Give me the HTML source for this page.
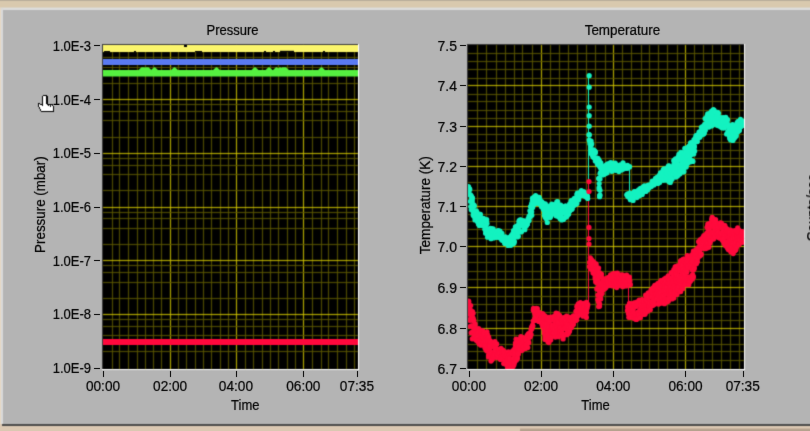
<!DOCTYPE html>
<html><head><meta charset="utf-8"><style>
html,body{margin:0;padding:0;background:#b4b4b4;width:810px;height:431px;overflow:hidden}
text{font-family:"Liberation Sans",sans-serif}
</style></head><body>
<svg width="810" height="431" viewBox="0 0 810 431" style="display:block">
<defs><filter id="blur" x="0" y="0" width="810" height="431" filterUnits="userSpaceOnUse" color-interpolation-filters="sRGB"><feConvolveMatrix order="3" kernelMatrix="0.0225 0.105 0.0225 0.105 0.49 0.105 0.0225 0.105 0.0225" edgeMode="duplicate"/></filter></defs><g filter="url(#blur)">
<rect x="0" y="0" width="810" height="431" fill="#b4b4b4"/>
<rect x="0" y="0" width="810" height="1" fill="#b8ad9a"/>
<rect x="0" y="1" width="810" height="7" fill="#d9c9ae"/>
<rect x="0" y="7" width="810" height="1" fill="#dad2c2"/>
<rect x="0" y="8" width="810" height="2" fill="#dcdcdc"/>
<rect x="0" y="8" width="1" height="418" fill="#e6d8c4"/>
<rect x="1" y="8" width="2" height="416" fill="#d9d9d9"/>
<rect x="0" y="424" width="810" height="7" fill="#dbc8b2"/>
<rect x="2" y="424" width="808" height="2" fill="#4b4b4b"/>
<rect x="520" y="428" width="290" height="1" fill="#cbb7a2"/>
<rect x="520" y="429" width="290" height="2" fill="#b6a28e"/>
<rect x="103" y="45" width="255" height="324" fill="#000"/>
<rect x="102" y="44" width="256" height="1" fill="#3c3c3c"/>
<rect x="102" y="44" width="1" height="325" fill="#3c3c3c"/>
<rect x="102" y="369" width="257" height="1" fill="#ffffff"/>
<rect x="358" y="44" width="1" height="326" fill="#ffffff"/>
<rect x="468" y="45" width="276" height="324" fill="#000"/>
<rect x="467" y="44" width="277" height="1" fill="#3c3c3c"/>
<rect x="467" y="44" width="1" height="325" fill="#3c3c3c"/>
<rect x="467" y="369" width="278" height="1" fill="#ffffff"/>
<rect x="744" y="44" width="1" height="326" fill="#ffffff"/>
<defs><filter id="blur2" x="0" y="0" width="810" height="431" filterUnits="userSpaceOnUse" color-interpolation-filters="sRGB"><feConvolveMatrix order="3" kernelMatrix="0.01 0.08 0.01 0.08 0.64 0.08 0.01 0.08 0.01" edgeMode="none" preserveAlpha="false"/></filter></defs>
<g shape-rendering="crispEdges" filter="url(#blur2)">
<rect x="112" y="45" width="1" height="324" fill="#5c5700"/>
<rect x="119" y="45" width="1" height="324" fill="#5c5700"/>
<rect x="128" y="45" width="1" height="324" fill="#5c5700"/>
<rect x="137" y="45" width="1" height="324" fill="#5c5700"/>
<rect x="145" y="45" width="1" height="324" fill="#5c5700"/>
<rect x="153" y="45" width="1" height="324" fill="#5c5700"/>
<rect x="161" y="45" width="1" height="324" fill="#5c5700"/>
<rect x="170" y="45" width="1" height="324" fill="#d0c400"/>
<rect x="178" y="45" width="1" height="324" fill="#5c5700"/>
<rect x="186" y="45" width="1" height="324" fill="#5c5700"/>
<rect x="195" y="45" width="1" height="324" fill="#5c5700"/>
<rect x="203" y="45" width="1" height="324" fill="#5c5700"/>
<rect x="211" y="45" width="1" height="324" fill="#5c5700"/>
<rect x="220" y="45" width="1" height="324" fill="#5c5700"/>
<rect x="228" y="45" width="1" height="324" fill="#5c5700"/>
<rect x="236" y="45" width="1" height="324" fill="#d0c400"/>
<rect x="245" y="45" width="1" height="324" fill="#5c5700"/>
<rect x="253" y="45" width="1" height="324" fill="#5c5700"/>
<rect x="262" y="45" width="1" height="324" fill="#5c5700"/>
<rect x="270" y="45" width="1" height="324" fill="#5c5700"/>
<rect x="278" y="45" width="1" height="324" fill="#5c5700"/>
<rect x="287" y="45" width="1" height="324" fill="#5c5700"/>
<rect x="295" y="45" width="1" height="324" fill="#5c5700"/>
<rect x="303" y="45" width="1" height="324" fill="#d0c400"/>
<rect x="312" y="45" width="1" height="324" fill="#5c5700"/>
<rect x="321" y="45" width="1" height="324" fill="#5c5700"/>
<rect x="328" y="45" width="1" height="324" fill="#5c5700"/>
<rect x="337" y="45" width="1" height="324" fill="#5c5700"/>
<rect x="346" y="45" width="1" height="324" fill="#5c5700"/>
<rect x="354" y="45" width="1" height="324" fill="#5c5700"/>
<rect x="103" y="351" width="255" height="1" fill="#5c5700"/>
<rect x="103" y="335" width="255" height="1" fill="#5c5700"/>
<rect x="103" y="326" width="255" height="1" fill="#5c5700"/>
<rect x="103" y="319" width="255" height="1" fill="#5c5700"/>
<rect x="103" y="314" width="255" height="1" fill="#d0c400"/>
<rect x="103" y="298" width="255" height="1" fill="#5c5700"/>
<rect x="103" y="282" width="255" height="1" fill="#5c5700"/>
<rect x="103" y="272" width="255" height="1" fill="#5c5700"/>
<rect x="103" y="265" width="255" height="1" fill="#5c5700"/>
<rect x="103" y="260" width="255" height="1" fill="#d0c400"/>
<rect x="103" y="244" width="255" height="1" fill="#5c5700"/>
<rect x="103" y="228" width="255" height="1" fill="#5c5700"/>
<rect x="103" y="218" width="255" height="1" fill="#5c5700"/>
<rect x="103" y="212" width="255" height="1" fill="#5c5700"/>
<rect x="103" y="207" width="255" height="1" fill="#d0c400"/>
<rect x="103" y="190" width="255" height="1" fill="#5c5700"/>
<rect x="103" y="174" width="255" height="1" fill="#5c5700"/>
<rect x="103" y="165" width="255" height="1" fill="#5c5700"/>
<rect x="103" y="158" width="255" height="1" fill="#5c5700"/>
<rect x="103" y="153" width="255" height="1" fill="#d0c400"/>
<rect x="103" y="137" width="255" height="1" fill="#5c5700"/>
<rect x="103" y="120" width="255" height="1" fill="#5c5700"/>
<rect x="103" y="111" width="255" height="1" fill="#5c5700"/>
<rect x="103" y="104" width="255" height="1" fill="#5c5700"/>
<rect x="103" y="99" width="255" height="1" fill="#d0c400"/>
<rect x="103" y="83" width="255" height="1" fill="#5c5700"/>
<rect x="103" y="67" width="255" height="1" fill="#5c5700"/>
<rect x="103" y="57" width="255" height="1" fill="#5c5700"/>
<rect x="103" y="51" width="255" height="1" fill="#5c5700"/>
<rect x="477" y="45" width="1" height="324" fill="#5c5700"/>
<rect x="486" y="45" width="1" height="324" fill="#5c5700"/>
<rect x="496" y="45" width="1" height="324" fill="#5c5700"/>
<rect x="505" y="45" width="1" height="324" fill="#5c5700"/>
<rect x="514" y="45" width="1" height="324" fill="#5c5700"/>
<rect x="522" y="45" width="1" height="324" fill="#5c5700"/>
<rect x="532" y="45" width="1" height="324" fill="#5c5700"/>
<rect x="541" y="45" width="1" height="324" fill="#d0c400"/>
<rect x="550" y="45" width="1" height="324" fill="#5c5700"/>
<rect x="559" y="45" width="1" height="324" fill="#5c5700"/>
<rect x="568" y="45" width="1" height="324" fill="#5c5700"/>
<rect x="577" y="45" width="1" height="324" fill="#5c5700"/>
<rect x="586" y="45" width="1" height="324" fill="#5c5700"/>
<rect x="595" y="45" width="1" height="324" fill="#5c5700"/>
<rect x="605" y="45" width="1" height="324" fill="#5c5700"/>
<rect x="613" y="45" width="1" height="324" fill="#d0c400"/>
<rect x="622" y="45" width="1" height="324" fill="#5c5700"/>
<rect x="631" y="45" width="1" height="324" fill="#5c5700"/>
<rect x="641" y="45" width="1" height="324" fill="#5c5700"/>
<rect x="649" y="45" width="1" height="324" fill="#5c5700"/>
<rect x="658" y="45" width="1" height="324" fill="#5c5700"/>
<rect x="667" y="45" width="1" height="324" fill="#5c5700"/>
<rect x="677" y="45" width="1" height="324" fill="#5c5700"/>
<rect x="685" y="45" width="1" height="324" fill="#d0c400"/>
<rect x="694" y="45" width="1" height="324" fill="#5c5700"/>
<rect x="703" y="45" width="1" height="324" fill="#5c5700"/>
<rect x="712" y="45" width="1" height="324" fill="#5c5700"/>
<rect x="721" y="45" width="1" height="324" fill="#5c5700"/>
<rect x="730" y="45" width="1" height="324" fill="#5c5700"/>
<rect x="739" y="45" width="1" height="324" fill="#5c5700"/>
<rect x="468" y="53" width="276" height="1" fill="#5c5700"/>
<rect x="468" y="61" width="276" height="1" fill="#5c5700"/>
<rect x="468" y="69" width="276" height="1" fill="#5c5700"/>
<rect x="468" y="78" width="276" height="1" fill="#5c5700"/>
<rect x="468" y="85" width="276" height="1" fill="#d0c400"/>
<rect x="468" y="94" width="276" height="1" fill="#5c5700"/>
<rect x="468" y="101" width="276" height="1" fill="#5c5700"/>
<rect x="468" y="110" width="276" height="1" fill="#5c5700"/>
<rect x="468" y="118" width="276" height="1" fill="#5c5700"/>
<rect x="468" y="126" width="276" height="1" fill="#d0c400"/>
<rect x="468" y="134" width="276" height="1" fill="#5c5700"/>
<rect x="468" y="142" width="276" height="1" fill="#5c5700"/>
<rect x="468" y="150" width="276" height="1" fill="#5c5700"/>
<rect x="468" y="158" width="276" height="1" fill="#5c5700"/>
<rect x="468" y="166" width="276" height="1" fill="#d0c400"/>
<rect x="468" y="174" width="276" height="1" fill="#5c5700"/>
<rect x="468" y="182" width="276" height="1" fill="#5c5700"/>
<rect x="468" y="190" width="276" height="1" fill="#5c5700"/>
<rect x="468" y="198" width="276" height="1" fill="#5c5700"/>
<rect x="468" y="206" width="276" height="1" fill="#d0c400"/>
<rect x="468" y="214" width="276" height="1" fill="#5c5700"/>
<rect x="468" y="221" width="276" height="1" fill="#5c5700"/>
<rect x="468" y="229" width="276" height="1" fill="#5c5700"/>
<rect x="468" y="238" width="276" height="1" fill="#5c5700"/>
<rect x="468" y="246" width="276" height="1" fill="#d0c400"/>
<rect x="468" y="254" width="276" height="1" fill="#5c5700"/>
<rect x="468" y="262" width="276" height="1" fill="#5c5700"/>
<rect x="468" y="271" width="276" height="1" fill="#5c5700"/>
<rect x="468" y="279" width="276" height="1" fill="#5c5700"/>
<rect x="468" y="287" width="276" height="1" fill="#d0c400"/>
<rect x="468" y="296" width="276" height="1" fill="#5c5700"/>
<rect x="468" y="304" width="276" height="1" fill="#5c5700"/>
<rect x="468" y="312" width="276" height="1" fill="#5c5700"/>
<rect x="468" y="320" width="276" height="1" fill="#5c5700"/>
<rect x="468" y="328" width="276" height="1" fill="#d0c400"/>
<rect x="468" y="335" width="276" height="1" fill="#5c5700"/>
<rect x="468" y="344" width="276" height="1" fill="#5c5700"/>
<rect x="468" y="351" width="276" height="1" fill="#5c5700"/>
<rect x="468" y="360" width="276" height="1" fill="#5c5700"/>
</g>
<svg x="103" y="45" width="255" height="324" viewBox="103 45 255 324">
<rect x="103" y="45" width="255" height="7" fill="#fbf56c"/>
<rect x="104" y="51" width="6" height="1" fill="#000"/>
<rect x="134" y="51" width="2" height="1" fill="#000"/>
<rect x="195" y="51" width="7" height="1" fill="#000"/>
<rect x="264" y="51" width="2" height="1" fill="#000"/>
<rect x="273" y="51" width="2" height="1" fill="#000"/>
<rect x="280" y="50.8" width="14" height="1.2" fill="#000"/>
<rect x="323" y="51" width="2" height="1" fill="#000"/>
<rect x="184" y="45" width="3" height="2" fill="#000"/>
<rect x="103" y="59" width="255" height="6" fill="#5a7af2"/>
<rect x="103" y="70" width="255" height="6.5" fill="#55f040"/>
<path d="M138.0,70.5 L141.5,67.2 L144.5,67.2 L148.0,70.5 Z" fill="#55f040"/>
<path d="M142.0,70.5 L145.5,67.2 L148.5,67.2 L152.0,70.5 Z" fill="#55f040"/>
<path d="M150.5,70.5 L154.0,67.2 L155.0,67.2 L158.5,70.5 Z" fill="#55f040"/>
<path d="M170.5,70.5 L174.0,67.2 L175.0,67.2 L178.5,70.5 Z" fill="#55f040"/>
<path d="M212.5,70.5 L216.0,67.2 L217.0,67.2 L220.5,70.5 Z" fill="#55f040"/>
<path d="M251.0,70.5 L254.5,67.2 L255.5,67.2 L259.0,70.5 Z" fill="#55f040"/>
<path d="M265.0,70.5 L268.5,67.2 L269.5,67.2 L273.0,70.5 Z" fill="#55f040"/>
<path d="M272.5,70.5 L276.0,67.2 L277.0,67.2 L280.5,70.5 Z" fill="#55f040"/>
<path d="M276.0,70.5 L279.5,67.2 L280.5,67.2 L284.0,70.5 Z" fill="#55f040"/>
<path d="M278.5,70.5 L282,67.2 L286,67.2 L289.5,70.5 Z" fill="#55f040"/>
<path d="M317.5,70.5 L321.0,67.2 L322.0,67.2 L325.5,70.5 Z" fill="#55f040"/>
<rect x="103" y="339" width="255" height="6" fill="#ff083c"/>
</svg>
<svg x="468" y="45" width="276" height="324" viewBox="468 45 276 324">
<path d="M588.5,195 V76 M629.5,166 V193" stroke="#14f2c0" stroke-width="1" fill="none"/>
<path d="M588.5,314 V182 M628.5,287 V304" stroke="#ff0a3c" stroke-width="1" fill="none"/>
<g fill="#14f2c0"><circle cx="468.7" cy="187.4" r="2.6"/><circle cx="468.6" cy="193.3" r="2.6"/><circle cx="468.4" cy="186.5" r="2.6"/><circle cx="469.4" cy="188.9" r="2.6"/><circle cx="469.6" cy="194.5" r="2.6"/><circle cx="469.8" cy="189.4" r="2.6"/><circle cx="470.5" cy="194.8" r="2.6"/><circle cx="470.4" cy="201.4" r="2.6"/><circle cx="470.8" cy="206.6" r="2.6"/><circle cx="471.3" cy="209.8" r="2.6"/><circle cx="471.6" cy="199.3" r="2.6"/><circle cx="471.2" cy="196.6" r="2.6"/><circle cx="471.4" cy="196.1" r="2.6"/><circle cx="472.4" cy="204.4" r="2.6"/><circle cx="472.3" cy="208.1" r="2.6"/><circle cx="472.2" cy="198.0" r="2.6"/><circle cx="472.4" cy="197.9" r="2.6"/><circle cx="472.3" cy="201.0" r="2.6"/><circle cx="473.2" cy="215.2" r="2.6"/><circle cx="473.4" cy="213.4" r="2.6"/><circle cx="473.3" cy="204.7" r="2.6"/><circle cx="473.1" cy="211.0" r="2.6"/><circle cx="474.1" cy="205.4" r="2.6"/><circle cx="473.8" cy="210.6" r="2.6"/><circle cx="474.2" cy="216.4" r="2.6"/><circle cx="474.3" cy="206.0" r="2.6"/><circle cx="475.0" cy="220.0" r="2.6"/><circle cx="475.0" cy="211.5" r="2.6"/><circle cx="475.2" cy="217.3" r="2.6"/><circle cx="475.3" cy="215.7" r="2.6"/><circle cx="476.0" cy="218.8" r="2.6"/><circle cx="476.2" cy="210.9" r="2.6"/><circle cx="476.1" cy="219.3" r="2.6"/><circle cx="476.8" cy="216.3" r="2.6"/><circle cx="476.6" cy="219.9" r="2.6"/><circle cx="476.6" cy="211.7" r="2.6"/><circle cx="477.6" cy="221.8" r="2.6"/><circle cx="477.9" cy="213.7" r="2.6"/><circle cx="477.4" cy="215.2" r="2.6"/><circle cx="478.8" cy="219.7" r="2.6"/><circle cx="478.5" cy="223.9" r="2.6"/><circle cx="478.5" cy="223.1" r="2.6"/><circle cx="479.3" cy="224.6" r="2.6"/><circle cx="479.3" cy="225.6" r="2.6"/><circle cx="479.3" cy="215.3" r="2.6"/><circle cx="480.4" cy="221.5" r="2.6"/><circle cx="480.3" cy="217.5" r="2.6"/><circle cx="480.4" cy="214.4" r="2.6"/><circle cx="481.4" cy="223.2" r="2.6"/><circle cx="481.0" cy="221.3" r="2.6"/><circle cx="481.5" cy="222.4" r="2.6"/><circle cx="482.1" cy="225.6" r="2.6"/><circle cx="482.0" cy="224.8" r="2.6"/><circle cx="482.3" cy="220.7" r="2.6"/><circle cx="482.9" cy="218.4" r="2.6"/><circle cx="483.0" cy="219.7" r="2.6"/><circle cx="483.8" cy="218.5" r="2.6"/><circle cx="483.9" cy="220.0" r="2.6"/><circle cx="484.8" cy="229.3" r="2.6"/><circle cx="484.8" cy="226.1" r="2.6"/><circle cx="484.8" cy="220.5" r="2.6"/><circle cx="485.8" cy="231.1" r="2.6"/><circle cx="485.6" cy="233.2" r="2.6"/><circle cx="485.6" cy="225.6" r="2.6"/><circle cx="487.0" cy="223.5" r="2.6"/><circle cx="486.7" cy="232.9" r="2.6"/><circle cx="486.5" cy="221.8" r="2.6"/><circle cx="486.7" cy="219.5" r="2.6"/><circle cx="487.7" cy="229.2" r="2.6"/><circle cx="487.5" cy="237.2" r="2.6"/><circle cx="487.5" cy="235.1" r="2.6"/><circle cx="488.4" cy="234.2" r="2.6"/><circle cx="488.3" cy="230.3" r="2.6"/><circle cx="488.7" cy="234.3" r="2.6"/><circle cx="489.2" cy="236.2" r="2.6"/><circle cx="489.4" cy="235.5" r="2.6"/><circle cx="489.3" cy="235.7" r="2.6"/><circle cx="489.1" cy="234.4" r="2.6"/><circle cx="490.6" cy="228.6" r="2.6"/><circle cx="490.3" cy="228.3" r="2.6"/><circle cx="490.6" cy="234.5" r="2.6"/><circle cx="491.0" cy="238.7" r="2.6"/><circle cx="491.0" cy="230.8" r="2.6"/><circle cx="491.3" cy="228.8" r="2.6"/><circle cx="491.4" cy="228.9" r="2.6"/><circle cx="491.9" cy="232.4" r="2.6"/><circle cx="492.2" cy="234.6" r="2.6"/><circle cx="492.3" cy="236.5" r="2.6"/><circle cx="493.2" cy="235.8" r="2.6"/><circle cx="492.9" cy="232.5" r="2.6"/><circle cx="493.2" cy="228.9" r="2.6"/><circle cx="494.0" cy="231.7" r="2.6"/><circle cx="493.7" cy="231.8" r="2.6"/><circle cx="493.7" cy="238.0" r="2.6"/><circle cx="494.6" cy="237.4" r="2.6"/><circle cx="495.0" cy="236.3" r="2.6"/><circle cx="495.5" cy="234.7" r="2.6"/><circle cx="495.4" cy="231.6" r="2.6"/><circle cx="496.0" cy="233.6" r="2.6"/><circle cx="496.8" cy="233.5" r="2.6"/><circle cx="496.8" cy="237.3" r="2.6"/><circle cx="496.4" cy="232.6" r="2.6"/><circle cx="497.6" cy="231.6" r="2.6"/><circle cx="497.4" cy="231.1" r="2.6"/><circle cx="498.3" cy="230.5" r="2.6"/><circle cx="498.4" cy="236.7" r="2.6"/><circle cx="499.6" cy="237.7" r="2.6"/><circle cx="499.3" cy="233.7" r="2.6"/><circle cx="500.0" cy="235.5" r="2.6"/><circle cx="499.9" cy="231.0" r="2.6"/><circle cx="500.4" cy="234.7" r="2.6"/><circle cx="501.1" cy="235.9" r="2.6"/><circle cx="501.0" cy="238.3" r="2.6"/><circle cx="502.0" cy="237.6" r="2.6"/><circle cx="501.8" cy="239.9" r="2.6"/><circle cx="501.9" cy="233.3" r="2.6"/><circle cx="503.1" cy="238.0" r="2.6"/><circle cx="502.9" cy="238.5" r="2.6"/><circle cx="503.0" cy="240.4" r="2.6"/><circle cx="503.8" cy="238.8" r="2.6"/><circle cx="503.8" cy="240.5" r="2.6"/><circle cx="504.1" cy="238.2" r="2.6"/><circle cx="504.7" cy="242.9" r="2.6"/><circle cx="505.0" cy="243.5" r="2.6"/><circle cx="504.9" cy="237.3" r="2.6"/><circle cx="505.3" cy="236.9" r="2.6"/><circle cx="505.4" cy="239.8" r="2.6"/><circle cx="506.7" cy="242.2" r="2.6"/><circle cx="506.3" cy="243.2" r="2.6"/><circle cx="507.7" cy="242.4" r="2.6"/><circle cx="507.2" cy="238.0" r="2.6"/><circle cx="507.7" cy="244.3" r="2.6"/><circle cx="508.5" cy="241.3" r="2.6"/><circle cx="508.1" cy="245.4" r="2.6"/><circle cx="509.0" cy="241.8" r="2.6"/><circle cx="509.1" cy="240.4" r="2.6"/><circle cx="509.8" cy="237.1" r="2.6"/><circle cx="510.0" cy="241.8" r="2.6"/><circle cx="510.2" cy="240.8" r="2.6"/><circle cx="511.3" cy="235.7" r="2.6"/><circle cx="510.8" cy="245.3" r="2.6"/><circle cx="510.9" cy="243.3" r="2.6"/><circle cx="511.9" cy="242.6" r="2.6"/><circle cx="512.1" cy="236.5" r="2.6"/><circle cx="512.1" cy="234.8" r="2.6"/><circle cx="512.9" cy="233.4" r="2.6"/><circle cx="512.6" cy="243.9" r="2.6"/><circle cx="512.5" cy="239.2" r="2.6"/><circle cx="513.9" cy="235.8" r="2.6"/><circle cx="513.5" cy="230.7" r="2.6"/><circle cx="513.9" cy="243.3" r="2.6"/><circle cx="513.4" cy="238.9" r="2.6"/><circle cx="514.5" cy="234.5" r="2.6"/><circle cx="514.4" cy="232.8" r="2.6"/><circle cx="514.6" cy="236.0" r="2.6"/><circle cx="514.4" cy="241.5" r="2.6"/><circle cx="515.4" cy="228.4" r="2.6"/><circle cx="515.4" cy="226.8" r="2.6"/><circle cx="515.7" cy="229.0" r="2.6"/><circle cx="516.1" cy="231.8" r="2.6"/><circle cx="516.3" cy="226.9" r="2.6"/><circle cx="516.1" cy="229.5" r="2.6"/><circle cx="517.1" cy="231.0" r="2.6"/><circle cx="517.5" cy="225.5" r="2.6"/><circle cx="517.3" cy="229.9" r="2.6"/><circle cx="517.3" cy="236.9" r="2.6"/><circle cx="518.1" cy="227.2" r="2.6"/><circle cx="518.4" cy="229.0" r="2.6"/><circle cx="518.3" cy="231.8" r="2.6"/><circle cx="518.3" cy="236.3" r="2.6"/><circle cx="518.8" cy="225.2" r="2.6"/><circle cx="519.2" cy="220.7" r="2.6"/><circle cx="519.0" cy="221.8" r="2.6"/><circle cx="520.1" cy="219.8" r="2.6"/><circle cx="519.9" cy="231.4" r="2.6"/><circle cx="519.8" cy="231.9" r="2.6"/><circle cx="520.8" cy="224.6" r="2.6"/><circle cx="521.2" cy="220.0" r="2.6"/><circle cx="521.2" cy="224.3" r="2.6"/><circle cx="521.7" cy="222.0" r="2.6"/><circle cx="521.5" cy="231.8" r="2.6"/><circle cx="521.7" cy="222.9" r="2.6"/><circle cx="522.4" cy="225.8" r="2.6"/><circle cx="522.6" cy="222.1" r="2.6"/><circle cx="522.5" cy="225.8" r="2.6"/><circle cx="523.4" cy="221.1" r="2.6"/><circle cx="523.7" cy="220.9" r="2.6"/><circle cx="523.6" cy="223.9" r="2.6"/><circle cx="524.4" cy="227.6" r="2.6"/><circle cx="524.4" cy="228.2" r="2.6"/><circle cx="524.8" cy="229.7" r="2.6"/><circle cx="525.1" cy="226.7" r="2.6"/><circle cx="525.6" cy="226.0" r="2.6"/><circle cx="526.1" cy="224.4" r="2.6"/><circle cx="526.3" cy="225.1" r="2.6"/><circle cx="526.3" cy="225.7" r="2.6"/><circle cx="527.3" cy="224.0" r="2.6"/><circle cx="527.4" cy="224.1" r="2.6"/><circle cx="527.8" cy="221.7" r="2.6"/><circle cx="527.9" cy="219.2" r="2.6"/><circle cx="529.0" cy="216.3" r="2.6"/><circle cx="529.1" cy="220.5" r="2.6"/><circle cx="530.1" cy="216.7" r="2.6"/><circle cx="530.0" cy="215.1" r="2.6"/><circle cx="529.9" cy="210.8" r="2.6"/><circle cx="530.7" cy="213.6" r="2.6"/><circle cx="530.5" cy="206.6" r="2.6"/><circle cx="530.7" cy="214.5" r="2.6"/><circle cx="531.6" cy="203.9" r="2.6"/><circle cx="531.7" cy="211.8" r="2.6"/><circle cx="531.8" cy="215.3" r="2.6"/><circle cx="531.9" cy="208.2" r="2.6"/><circle cx="532.7" cy="207.3" r="2.6"/><circle cx="532.5" cy="198.2" r="2.6"/><circle cx="532.6" cy="199.3" r="2.6"/><circle cx="532.3" cy="201.0" r="2.6"/><circle cx="533.6" cy="199.6" r="2.6"/><circle cx="533.4" cy="204.4" r="2.6"/><circle cx="533.5" cy="204.7" r="2.6"/><circle cx="534.6" cy="199.7" r="2.6"/><circle cx="534.2" cy="197.0" r="2.6"/><circle cx="535.5" cy="203.0" r="2.6"/><circle cx="535.6" cy="195.7" r="2.6"/><circle cx="535.3" cy="199.2" r="2.6"/><circle cx="536.0" cy="196.9" r="2.6"/><circle cx="536.2" cy="202.7" r="2.6"/><circle cx="536.9" cy="200.0" r="2.6"/><circle cx="537.3" cy="203.2" r="2.6"/><circle cx="537.8" cy="203.2" r="2.6"/><circle cx="538.2" cy="201.8" r="2.6"/><circle cx="538.9" cy="197.4" r="2.6"/><circle cx="538.9" cy="197.3" r="2.6"/><circle cx="539.7" cy="198.9" r="2.6"/><circle cx="540.0" cy="200.3" r="2.6"/><circle cx="540.5" cy="204.3" r="2.6"/><circle cx="541.0" cy="205.0" r="2.6"/><circle cx="541.5" cy="206.8" r="2.6"/><circle cx="541.9" cy="201.9" r="2.6"/><circle cx="541.7" cy="202.6" r="2.6"/><circle cx="542.2" cy="204.1" r="2.6"/><circle cx="542.3" cy="202.8" r="2.6"/><circle cx="543.3" cy="203.9" r="2.6"/><circle cx="543.4" cy="209.6" r="2.6"/><circle cx="543.2" cy="203.6" r="2.6"/><circle cx="544.4" cy="215.0" r="2.6"/><circle cx="544.5" cy="214.0" r="2.6"/><circle cx="544.6" cy="213.0" r="2.6"/><circle cx="545.4" cy="216.7" r="2.6"/><circle cx="545.3" cy="203.8" r="2.6"/><circle cx="545.1" cy="216.9" r="2.6"/><circle cx="544.9" cy="211.5" r="2.6"/><circle cx="546.4" cy="206.1" r="2.6"/><circle cx="546.0" cy="213.1" r="2.6"/><circle cx="546.2" cy="210.5" r="2.6"/><circle cx="546.0" cy="209.6" r="2.6"/><circle cx="546.1" cy="218.6" r="2.6"/><circle cx="547.0" cy="207.6" r="2.6"/><circle cx="546.8" cy="207.5" r="2.6"/><circle cx="547.2" cy="208.4" r="2.6"/><circle cx="547.3" cy="222.5" r="2.6"/><circle cx="547.7" cy="207.1" r="2.6"/><circle cx="547.7" cy="208.1" r="2.6"/><circle cx="547.8" cy="206.2" r="2.6"/><circle cx="547.9" cy="210.9" r="2.6"/><circle cx="548.7" cy="217.2" r="2.6"/><circle cx="548.7" cy="211.5" r="2.6"/><circle cx="548.5" cy="211.5" r="2.6"/><circle cx="548.7" cy="213.4" r="2.6"/><circle cx="549.5" cy="206.4" r="2.6"/><circle cx="549.6" cy="212.1" r="2.6"/><circle cx="549.5" cy="214.0" r="2.6"/><circle cx="549.6" cy="217.6" r="2.6"/><circle cx="550.3" cy="217.2" r="2.6"/><circle cx="550.3" cy="215.8" r="2.6"/><circle cx="550.7" cy="216.1" r="2.6"/><circle cx="551.8" cy="210.2" r="2.6"/><circle cx="551.7" cy="211.7" r="2.6"/><circle cx="551.7" cy="204.2" r="2.6"/><circle cx="551.8" cy="209.2" r="2.6"/><circle cx="552.5" cy="205.2" r="2.6"/><circle cx="552.7" cy="205.8" r="2.6"/><circle cx="552.5" cy="210.5" r="2.6"/><circle cx="553.0" cy="213.4" r="2.6"/><circle cx="553.5" cy="209.3" r="2.6"/><circle cx="553.1" cy="210.6" r="2.6"/><circle cx="554.3" cy="211.5" r="2.6"/><circle cx="554.3" cy="206.9" r="2.6"/><circle cx="554.0" cy="204.6" r="2.6"/><circle cx="553.9" cy="206.2" r="2.6"/><circle cx="555.2" cy="210.4" r="2.6"/><circle cx="554.8" cy="207.8" r="2.6"/><circle cx="555.0" cy="205.5" r="2.6"/><circle cx="556.0" cy="215.8" r="2.6"/><circle cx="555.8" cy="211.3" r="2.6"/><circle cx="555.8" cy="214.7" r="2.6"/><circle cx="557.0" cy="212.2" r="2.6"/><circle cx="556.9" cy="206.1" r="2.6"/><circle cx="556.8" cy="201.8" r="2.6"/><circle cx="557.0" cy="209.0" r="2.6"/><circle cx="557.9" cy="204.6" r="2.6"/><circle cx="557.6" cy="201.5" r="2.6"/><circle cx="558.0" cy="206.4" r="2.6"/><circle cx="557.9" cy="207.7" r="2.6"/><circle cx="558.5" cy="204.5" r="2.6"/><circle cx="558.5" cy="216.8" r="2.6"/><circle cx="558.9" cy="206.2" r="2.6"/><circle cx="558.6" cy="214.4" r="2.6"/><circle cx="559.7" cy="210.4" r="2.6"/><circle cx="559.9" cy="205.7" r="2.6"/><circle cx="559.4" cy="206.2" r="2.6"/><circle cx="559.5" cy="209.2" r="2.6"/><circle cx="560.2" cy="218.7" r="2.6"/><circle cx="560.4" cy="206.5" r="2.6"/><circle cx="560.7" cy="205.2" r="2.6"/><circle cx="561.2" cy="216.3" r="2.6"/><circle cx="561.7" cy="220.0" r="2.6"/><circle cx="561.5" cy="219.0" r="2.6"/><circle cx="561.1" cy="210.6" r="2.6"/><circle cx="562.1" cy="212.2" r="2.6"/><circle cx="562.0" cy="212.1" r="2.6"/><circle cx="562.2" cy="211.6" r="2.6"/><circle cx="563.0" cy="219.3" r="2.6"/><circle cx="563.1" cy="208.3" r="2.6"/><circle cx="563.4" cy="219.4" r="2.6"/><circle cx="564.0" cy="211.9" r="2.6"/><circle cx="564.4" cy="206.9" r="2.6"/><circle cx="563.9" cy="212.4" r="2.6"/><circle cx="565.2" cy="217.3" r="2.6"/><circle cx="565.2" cy="206.2" r="2.6"/><circle cx="564.7" cy="211.0" r="2.6"/><circle cx="566.0" cy="206.1" r="2.6"/><circle cx="566.1" cy="216.9" r="2.6"/><circle cx="565.8" cy="208.5" r="2.6"/><circle cx="566.9" cy="216.2" r="2.6"/><circle cx="566.7" cy="212.0" r="2.6"/><circle cx="566.7" cy="207.6" r="2.6"/><circle cx="568.0" cy="212.7" r="2.6"/><circle cx="567.4" cy="214.6" r="2.6"/><circle cx="567.5" cy="211.2" r="2.6"/><circle cx="568.5" cy="214.0" r="2.6"/><circle cx="568.6" cy="214.0" r="2.6"/><circle cx="568.6" cy="207.2" r="2.6"/><circle cx="569.7" cy="203.8" r="2.6"/><circle cx="569.7" cy="211.1" r="2.6"/><circle cx="569.6" cy="210.4" r="2.6"/><circle cx="570.1" cy="204.6" r="2.6"/><circle cx="570.2" cy="205.0" r="2.6"/><circle cx="570.6" cy="209.7" r="2.6"/><circle cx="571.3" cy="201.0" r="2.6"/><circle cx="571.2" cy="200.7" r="2.6"/><circle cx="572.0" cy="208.2" r="2.6"/><circle cx="572.0" cy="209.2" r="2.6"/><circle cx="572.2" cy="202.3" r="2.6"/><circle cx="573.2" cy="203.0" r="2.6"/><circle cx="573.2" cy="201.1" r="2.6"/><circle cx="573.2" cy="202.8" r="2.6"/><circle cx="573.9" cy="203.8" r="2.6"/><circle cx="574.0" cy="198.9" r="2.6"/><circle cx="573.9" cy="205.4" r="2.6"/><circle cx="574.7" cy="198.3" r="2.6"/><circle cx="575.1" cy="198.8" r="2.6"/><circle cx="574.9" cy="198.7" r="2.6"/><circle cx="575.8" cy="198.9" r="2.6"/><circle cx="575.6" cy="204.5" r="2.6"/><circle cx="576.7" cy="200.1" r="2.6"/><circle cx="576.9" cy="203.4" r="2.6"/><circle cx="576.9" cy="194.7" r="2.6"/><circle cx="577.4" cy="193.2" r="2.6"/><circle cx="577.9" cy="195.6" r="2.6"/><circle cx="577.6" cy="194.0" r="2.6"/><circle cx="578.4" cy="195.4" r="2.6"/><circle cx="578.7" cy="199.7" r="2.6"/><circle cx="578.8" cy="196.1" r="2.6"/><circle cx="579.2" cy="196.2" r="2.6"/><circle cx="579.3" cy="196.4" r="2.6"/><circle cx="580.4" cy="192.3" r="2.6"/><circle cx="580.4" cy="192.7" r="2.6"/><circle cx="581.3" cy="190.7" r="2.6"/><circle cx="581.0" cy="192.8" r="2.6"/><circle cx="582.1" cy="192.1" r="2.6"/><circle cx="581.8" cy="195.6" r="2.6"/><circle cx="583.0" cy="193.2" r="2.6"/><circle cx="584.0" cy="191.8" r="2.6"/><circle cx="583.8" cy="192.1" r="2.6"/><circle cx="584.7" cy="193.2" r="2.6"/><circle cx="584.8" cy="196.0" r="2.6"/><circle cx="586.0" cy="194.6" r="2.6"/><circle cx="585.6" cy="196.6" r="2.6"/><circle cx="586.3" cy="197.0" r="2.6"/><circle cx="586.8" cy="194.4" r="2.6"/><circle cx="587.7" cy="198.5" r="2.6"/><circle cx="587.5" cy="196.3" r="2.6"/></g>
<g fill="#14f2c0"><circle cx="589.1" cy="134.7" r="2.6"/><circle cx="589.2" cy="140.0" r="2.6"/><circle cx="589.9" cy="143.8" r="2.6"/><circle cx="589.7" cy="141.1" r="2.6"/><circle cx="590.8" cy="145.7" r="2.6"/><circle cx="591.0" cy="150.2" r="2.6"/><circle cx="591.1" cy="141.1" r="2.6"/><circle cx="591.7" cy="144.1" r="2.6"/><circle cx="591.4" cy="153.6" r="2.6"/><circle cx="592.0" cy="154.0" r="2.6"/><circle cx="592.4" cy="155.6" r="2.6"/><circle cx="592.8" cy="152.4" r="2.6"/><circle cx="592.4" cy="154.7" r="2.6"/><circle cx="593.3" cy="157.1" r="2.6"/><circle cx="593.4" cy="156.9" r="2.6"/><circle cx="593.5" cy="149.8" r="2.6"/><circle cx="594.6" cy="150.9" r="2.6"/><circle cx="594.1" cy="152.3" r="2.6"/><circle cx="594.4" cy="157.7" r="2.6"/><circle cx="595.4" cy="151.8" r="2.6"/><circle cx="595.3" cy="161.0" r="2.6"/><circle cx="595.4" cy="152.7" r="2.6"/><circle cx="596.3" cy="158.2" r="2.6"/><circle cx="596.2" cy="160.2" r="2.6"/><circle cx="596.2" cy="158.3" r="2.6"/><circle cx="597.3" cy="163.8" r="2.6"/><circle cx="597.3" cy="161.9" r="2.6"/><circle cx="597.1" cy="158.3" r="2.6"/><circle cx="598.0" cy="164.6" r="2.6"/><circle cx="597.8" cy="158.4" r="2.6"/><circle cx="598.0" cy="158.8" r="2.6"/><circle cx="598.8" cy="160.0" r="2.6"/><circle cx="599.2" cy="183.6" r="2.6"/><circle cx="598.7" cy="161.7" r="2.6"/><circle cx="599.1" cy="187.5" r="2.6"/><circle cx="599.2" cy="189.2" r="2.6"/><circle cx="599.0" cy="178.7" r="2.6"/><circle cx="599.1" cy="160.6" r="2.6"/><circle cx="598.7" cy="178.4" r="2.6"/><circle cx="600.0" cy="179.0" r="2.6"/><circle cx="599.6" cy="196.7" r="2.6"/><circle cx="600.0" cy="195.1" r="2.6"/><circle cx="599.7" cy="166.5" r="2.6"/><circle cx="600.0" cy="190.3" r="2.6"/><circle cx="599.6" cy="195.7" r="2.6"/><circle cx="599.8" cy="162.7" r="2.6"/><circle cx="600.1" cy="173.6" r="2.6"/><circle cx="600.5" cy="167.5" r="2.6"/><circle cx="600.5" cy="172.6" r="2.6"/><circle cx="601.0" cy="168.7" r="2.6"/><circle cx="600.8" cy="162.8" r="2.6"/><circle cx="601.6" cy="166.0" r="2.6"/><circle cx="601.7" cy="173.7" r="2.6"/><circle cx="601.5" cy="165.3" r="2.6"/><circle cx="602.3" cy="171.6" r="2.6"/><circle cx="602.8" cy="171.9" r="2.6"/><circle cx="602.6" cy="175.0" r="2.6"/><circle cx="603.7" cy="174.5" r="2.6"/><circle cx="603.4" cy="170.0" r="2.6"/><circle cx="604.1" cy="173.9" r="2.6"/><circle cx="604.4" cy="171.1" r="2.6"/><circle cx="605.3" cy="173.6" r="2.6"/><circle cx="605.5" cy="168.5" r="2.6"/><circle cx="605.8" cy="171.3" r="2.6"/><circle cx="605.9" cy="168.0" r="2.6"/><circle cx="606.2" cy="165.0" r="2.6"/><circle cx="606.8" cy="169.0" r="2.6"/><circle cx="607.1" cy="172.8" r="2.6"/><circle cx="606.7" cy="165.2" r="2.6"/><circle cx="607.8" cy="166.4" r="2.6"/><circle cx="607.7" cy="163.8" r="2.6"/><circle cx="608.8" cy="168.5" r="2.6"/><circle cx="608.6" cy="164.6" r="2.6"/><circle cx="609.1" cy="168.8" r="2.6"/><circle cx="609.8" cy="164.0" r="2.6"/><circle cx="609.9" cy="163.5" r="2.6"/><circle cx="610.7" cy="166.4" r="2.6"/><circle cx="610.6" cy="165.1" r="2.6"/><circle cx="610.5" cy="162.7" r="2.6"/><circle cx="611.3" cy="166.7" r="2.6"/><circle cx="611.7" cy="171.3" r="2.6"/><circle cx="611.2" cy="169.4" r="2.6"/><circle cx="612.6" cy="166.3" r="2.6"/><circle cx="612.1" cy="164.8" r="2.6"/><circle cx="612.4" cy="163.1" r="2.6"/><circle cx="613.3" cy="163.9" r="2.6"/><circle cx="613.4" cy="164.4" r="2.6"/><circle cx="613.5" cy="168.0" r="2.6"/><circle cx="613.9" cy="165.4" r="2.6"/><circle cx="614.4" cy="165.3" r="2.6"/><circle cx="615.2" cy="169.2" r="2.6"/><circle cx="615.1" cy="163.1" r="2.6"/><circle cx="615.2" cy="170.3" r="2.6"/><circle cx="615.8" cy="165.4" r="2.6"/><circle cx="615.7" cy="164.4" r="2.6"/><circle cx="617.1" cy="170.1" r="2.6"/><circle cx="617.0" cy="169.6" r="2.6"/><circle cx="618.0" cy="168.8" r="2.6"/><circle cx="617.8" cy="167.8" r="2.6"/><circle cx="618.5" cy="169.0" r="2.6"/><circle cx="618.9" cy="171.6" r="2.6"/><circle cx="619.7" cy="165.4" r="2.6"/><circle cx="619.9" cy="165.2" r="2.6"/><circle cx="620.3" cy="165.3" r="2.6"/><circle cx="620.7" cy="169.7" r="2.6"/><circle cx="620.6" cy="165.3" r="2.6"/><circle cx="621.6" cy="167.3" r="2.6"/><circle cx="621.5" cy="169.9" r="2.6"/><circle cx="621.6" cy="165.8" r="2.6"/><circle cx="622.2" cy="167.4" r="2.6"/><circle cx="622.1" cy="166.2" r="2.6"/><circle cx="623.0" cy="162.8" r="2.6"/><circle cx="622.9" cy="168.7" r="2.6"/><circle cx="623.9" cy="168.8" r="2.6"/><circle cx="623.8" cy="165.0" r="2.6"/><circle cx="625.1" cy="167.3" r="2.6"/><circle cx="625.1" cy="166.9" r="2.6"/><circle cx="625.8" cy="166.8" r="2.6"/><circle cx="626.5" cy="167.9" r="2.6"/><circle cx="627.0" cy="168.3" r="2.6"/><circle cx="627.5" cy="168.0" r="2.6"/><circle cx="627.5" cy="165.3" r="2.6"/><circle cx="628.8" cy="167.2" r="2.6"/><circle cx="629.6" cy="166.7" r="2.6"/></g>
<g fill="#14f2c0"><circle cx="627.2" cy="194.8" r="2.6"/><circle cx="626.8" cy="194.8" r="2.6"/><circle cx="627.8" cy="196.6" r="2.6"/><circle cx="627.8" cy="193.9" r="2.6"/><circle cx="629.1" cy="196.0" r="2.6"/><circle cx="628.8" cy="195.7" r="2.6"/><circle cx="629.7" cy="197.7" r="2.6"/><circle cx="629.9" cy="193.2" r="2.6"/><circle cx="629.6" cy="196.1" r="2.6"/><circle cx="630.4" cy="197.0" r="2.6"/><circle cx="630.8" cy="194.3" r="2.6"/><circle cx="630.4" cy="199.7" r="2.6"/><circle cx="631.8" cy="193.9" r="2.6"/><circle cx="631.2" cy="198.8" r="2.6"/><circle cx="632.4" cy="196.3" r="2.6"/><circle cx="632.3" cy="199.2" r="2.6"/><circle cx="632.6" cy="193.4" r="2.6"/><circle cx="633.1" cy="200.5" r="2.6"/><circle cx="633.4" cy="194.0" r="2.6"/><circle cx="634.4" cy="191.8" r="2.6"/><circle cx="634.3" cy="196.9" r="2.6"/><circle cx="634.4" cy="191.5" r="2.6"/><circle cx="635.3" cy="193.6" r="2.6"/><circle cx="634.9" cy="194.1" r="2.6"/><circle cx="635.3" cy="194.0" r="2.6"/><circle cx="636.2" cy="191.7" r="2.6"/><circle cx="636.0" cy="192.2" r="2.6"/><circle cx="636.9" cy="197.6" r="2.6"/><circle cx="636.9" cy="191.4" r="2.6"/><circle cx="637.7" cy="195.8" r="2.6"/><circle cx="637.6" cy="194.8" r="2.6"/><circle cx="638.0" cy="192.0" r="2.6"/><circle cx="638.9" cy="195.1" r="2.6"/><circle cx="638.7" cy="189.8" r="2.6"/><circle cx="638.5" cy="192.3" r="2.6"/><circle cx="639.4" cy="195.8" r="2.6"/><circle cx="639.5" cy="189.9" r="2.6"/><circle cx="640.3" cy="194.8" r="2.6"/><circle cx="640.4" cy="188.7" r="2.6"/><circle cx="640.5" cy="188.7" r="2.6"/><circle cx="641.7" cy="189.7" r="2.6"/><circle cx="641.5" cy="188.5" r="2.6"/><circle cx="642.2" cy="194.5" r="2.6"/><circle cx="642.6" cy="187.3" r="2.6"/><circle cx="643.3" cy="191.9" r="2.6"/><circle cx="643.0" cy="189.5" r="2.6"/><circle cx="643.0" cy="187.6" r="2.6"/><circle cx="644.3" cy="185.8" r="2.6"/><circle cx="644.2" cy="188.7" r="2.6"/><circle cx="644.8" cy="189.9" r="2.6"/><circle cx="645.1" cy="188.6" r="2.6"/><circle cx="645.9" cy="190.2" r="2.6"/><circle cx="645.9" cy="191.4" r="2.6"/><circle cx="646.9" cy="187.2" r="2.6"/><circle cx="647.0" cy="185.8" r="2.6"/><circle cx="647.8" cy="188.6" r="2.6"/><circle cx="647.8" cy="189.7" r="2.6"/><circle cx="648.4" cy="185.2" r="2.6"/><circle cx="648.6" cy="187.4" r="2.6"/><circle cx="649.4" cy="187.4" r="2.6"/><circle cx="649.5" cy="186.8" r="2.6"/><circle cx="650.5" cy="186.1" r="2.6"/><circle cx="650.7" cy="184.7" r="2.6"/><circle cx="651.2" cy="185.7" r="2.6"/><circle cx="651.3" cy="186.5" r="2.6"/><circle cx="652.4" cy="181.0" r="2.6"/><circle cx="652.5" cy="184.3" r="2.6"/><circle cx="652.2" cy="181.8" r="2.6"/><circle cx="653.2" cy="183.9" r="2.6"/><circle cx="653.1" cy="183.7" r="2.6"/><circle cx="653.9" cy="184.9" r="2.6"/><circle cx="654.3" cy="182.9" r="2.6"/><circle cx="655.1" cy="183.3" r="2.6"/><circle cx="654.7" cy="181.5" r="2.6"/><circle cx="655.7" cy="180.3" r="2.6"/><circle cx="655.5" cy="178.3" r="2.6"/><circle cx="655.8" cy="179.8" r="2.6"/><circle cx="656.6" cy="182.0" r="2.6"/><circle cx="656.5" cy="179.3" r="2.6"/><circle cx="657.8" cy="183.4" r="2.6"/><circle cx="657.5" cy="179.8" r="2.6"/><circle cx="657.4" cy="177.2" r="2.6"/><circle cx="658.6" cy="181.4" r="2.6"/><circle cx="658.5" cy="181.7" r="2.6"/><circle cx="659.5" cy="175.1" r="2.6"/><circle cx="659.6" cy="182.6" r="2.6"/><circle cx="659.6" cy="176.4" r="2.6"/><circle cx="660.5" cy="174.8" r="2.6"/><circle cx="660.2" cy="177.6" r="2.6"/><circle cx="660.5" cy="172.9" r="2.6"/><circle cx="661.0" cy="174.7" r="2.6"/><circle cx="660.9" cy="173.2" r="2.6"/><circle cx="661.3" cy="175.3" r="2.6"/><circle cx="662.1" cy="172.6" r="2.6"/><circle cx="662.2" cy="173.3" r="2.6"/><circle cx="662.2" cy="175.4" r="2.6"/><circle cx="663.2" cy="180.3" r="2.6"/><circle cx="663.2" cy="179.4" r="2.6"/><circle cx="663.2" cy="169.8" r="2.6"/><circle cx="663.6" cy="179.0" r="2.6"/><circle cx="664.2" cy="176.5" r="2.6"/><circle cx="664.0" cy="168.8" r="2.6"/><circle cx="665.0" cy="169.4" r="2.6"/><circle cx="664.7" cy="170.0" r="2.6"/><circle cx="664.6" cy="171.2" r="2.6"/><circle cx="665.9" cy="178.7" r="2.6"/><circle cx="665.8" cy="169.9" r="2.6"/><circle cx="665.9" cy="180.1" r="2.6"/><circle cx="665.9" cy="176.1" r="2.6"/><circle cx="666.6" cy="170.0" r="2.6"/><circle cx="666.8" cy="177.3" r="2.6"/><circle cx="666.6" cy="174.9" r="2.6"/><circle cx="666.5" cy="178.0" r="2.6"/><circle cx="667.5" cy="168.7" r="2.6"/><circle cx="667.3" cy="174.2" r="2.6"/><circle cx="667.5" cy="167.5" r="2.6"/><circle cx="668.4" cy="174.6" r="2.6"/><circle cx="668.4" cy="180.0" r="2.6"/><circle cx="668.5" cy="165.8" r="2.6"/><circle cx="668.6" cy="179.6" r="2.6"/><circle cx="669.4" cy="172.2" r="2.6"/><circle cx="669.0" cy="181.8" r="2.6"/><circle cx="669.4" cy="166.1" r="2.6"/><circle cx="669.4" cy="176.0" r="2.6"/><circle cx="669.9" cy="170.1" r="2.6"/><circle cx="670.3" cy="182.4" r="2.6"/><circle cx="670.3" cy="173.5" r="2.6"/><circle cx="670.1" cy="173.0" r="2.6"/><circle cx="670.4" cy="180.8" r="2.6"/><circle cx="671.1" cy="172.4" r="2.6"/><circle cx="671.1" cy="173.4" r="2.6"/><circle cx="671.1" cy="178.3" r="2.6"/><circle cx="671.3" cy="167.2" r="2.6"/><circle cx="672.0" cy="179.3" r="2.6"/><circle cx="672.3" cy="170.4" r="2.6"/><circle cx="672.1" cy="172.5" r="2.6"/><circle cx="672.2" cy="167.7" r="2.6"/><circle cx="673.1" cy="167.7" r="2.6"/><circle cx="672.6" cy="167.3" r="2.6"/><circle cx="673.0" cy="173.3" r="2.6"/><circle cx="673.1" cy="174.3" r="2.6"/><circle cx="674.1" cy="161.2" r="2.6"/><circle cx="673.9" cy="166.4" r="2.6"/><circle cx="673.9" cy="160.3" r="2.6"/><circle cx="674.0" cy="164.1" r="2.6"/><circle cx="674.8" cy="171.8" r="2.6"/><circle cx="674.5" cy="171.9" r="2.6"/><circle cx="674.8" cy="172.1" r="2.6"/><circle cx="674.7" cy="173.6" r="2.6"/><circle cx="674.9" cy="171.5" r="2.6"/><circle cx="675.7" cy="161.9" r="2.6"/><circle cx="675.5" cy="158.9" r="2.6"/><circle cx="675.8" cy="174.2" r="2.6"/><circle cx="675.8" cy="177.1" r="2.6"/><circle cx="676.6" cy="162.5" r="2.6"/><circle cx="676.8" cy="163.5" r="2.6"/><circle cx="676.2" cy="166.0" r="2.6"/><circle cx="676.5" cy="163.8" r="2.6"/><circle cx="676.2" cy="166.2" r="2.6"/><circle cx="677.1" cy="173.7" r="2.6"/><circle cx="677.3" cy="168.6" r="2.6"/><circle cx="677.5" cy="176.1" r="2.6"/><circle cx="677.7" cy="165.8" r="2.6"/><circle cx="678.1" cy="165.7" r="2.6"/><circle cx="678.0" cy="164.3" r="2.6"/><circle cx="678.0" cy="157.3" r="2.6"/><circle cx="678.4" cy="169.5" r="2.6"/><circle cx="678.1" cy="159.8" r="2.6"/><circle cx="679.0" cy="156.0" r="2.6"/><circle cx="679.3" cy="174.2" r="2.6"/><circle cx="679.0" cy="156.9" r="2.6"/><circle cx="678.9" cy="154.4" r="2.6"/><circle cx="679.4" cy="170.7" r="2.6"/><circle cx="680.1" cy="173.4" r="2.6"/><circle cx="680.4" cy="170.4" r="2.6"/><circle cx="680.0" cy="154.9" r="2.6"/><circle cx="680.4" cy="168.0" r="2.6"/><circle cx="680.2" cy="169.9" r="2.6"/><circle cx="680.9" cy="152.3" r="2.6"/><circle cx="681.1" cy="167.4" r="2.6"/><circle cx="680.8" cy="171.4" r="2.6"/><circle cx="681.2" cy="153.9" r="2.6"/><circle cx="681.7" cy="152.5" r="2.6"/><circle cx="682.1" cy="159.7" r="2.6"/><circle cx="681.8" cy="164.6" r="2.6"/><circle cx="682.0" cy="161.4" r="2.6"/><circle cx="682.0" cy="166.9" r="2.6"/><circle cx="682.7" cy="159.1" r="2.6"/><circle cx="682.5" cy="168.4" r="2.6"/><circle cx="683.1" cy="172.0" r="2.6"/><circle cx="682.9" cy="168.3" r="2.6"/><circle cx="683.0" cy="163.3" r="2.6"/><circle cx="683.7" cy="163.1" r="2.6"/><circle cx="683.9" cy="171.6" r="2.6"/><circle cx="683.6" cy="168.3" r="2.6"/><circle cx="683.8" cy="163.0" r="2.6"/><circle cx="683.8" cy="156.3" r="2.6"/><circle cx="684.7" cy="166.6" r="2.6"/><circle cx="684.8" cy="154.8" r="2.6"/><circle cx="684.8" cy="148.4" r="2.6"/><circle cx="684.3" cy="154.3" r="2.6"/><circle cx="684.8" cy="157.9" r="2.6"/><circle cx="685.6" cy="166.8" r="2.6"/><circle cx="685.7" cy="160.2" r="2.6"/><circle cx="685.4" cy="153.6" r="2.6"/><circle cx="685.3" cy="166.4" r="2.6"/><circle cx="685.5" cy="165.4" r="2.6"/><circle cx="686.5" cy="151.0" r="2.6"/><circle cx="686.4" cy="163.0" r="2.6"/><circle cx="686.2" cy="167.0" r="2.6"/><circle cx="686.3" cy="151.7" r="2.6"/><circle cx="686.6" cy="159.9" r="2.6"/><circle cx="687.3" cy="155.8" r="2.6"/><circle cx="687.5" cy="147.6" r="2.6"/><circle cx="687.5" cy="163.4" r="2.6"/><circle cx="687.3" cy="162.6" r="2.6"/><circle cx="687.3" cy="150.8" r="2.6"/><circle cx="688.2" cy="148.9" r="2.6"/><circle cx="688.1" cy="149.0" r="2.6"/><circle cx="688.2" cy="148.8" r="2.6"/><circle cx="688.0" cy="160.1" r="2.6"/><circle cx="687.9" cy="152.7" r="2.6"/><circle cx="689.2" cy="152.1" r="2.6"/><circle cx="689.0" cy="146.2" r="2.6"/><circle cx="689.1" cy="157.7" r="2.6"/><circle cx="688.8" cy="161.1" r="2.6"/><circle cx="688.8" cy="147.3" r="2.6"/><circle cx="690.0" cy="161.9" r="2.6"/><circle cx="690.3" cy="153.6" r="2.6"/><circle cx="690.2" cy="155.4" r="2.6"/><circle cx="690.2" cy="148.7" r="2.6"/><circle cx="690.3" cy="160.0" r="2.6"/><circle cx="690.6" cy="142.9" r="2.6"/><circle cx="690.9" cy="146.5" r="2.6"/><circle cx="691.1" cy="146.0" r="2.6"/><circle cx="690.9" cy="143.9" r="2.6"/><circle cx="692.1" cy="161.0" r="2.6"/><circle cx="691.7" cy="142.6" r="2.6"/><circle cx="691.8" cy="154.2" r="2.6"/><circle cx="691.9" cy="149.9" r="2.6"/><circle cx="692.1" cy="143.8" r="2.6"/><circle cx="692.5" cy="148.7" r="2.6"/><circle cx="692.4" cy="149.9" r="2.6"/><circle cx="692.6" cy="143.7" r="2.6"/><circle cx="692.6" cy="160.9" r="2.6"/><circle cx="692.9" cy="161.5" r="2.6"/><circle cx="693.7" cy="153.9" r="2.6"/><circle cx="693.9" cy="139.9" r="2.6"/><circle cx="693.3" cy="153.0" r="2.6"/><circle cx="693.4" cy="151.6" r="2.6"/><circle cx="694.7" cy="151.0" r="2.6"/><circle cx="694.3" cy="147.3" r="2.6"/><circle cx="694.4" cy="142.1" r="2.6"/><circle cx="694.4" cy="146.1" r="2.6"/><circle cx="695.2" cy="141.6" r="2.6"/><circle cx="695.2" cy="138.4" r="2.6"/><circle cx="696.0" cy="135.6" r="2.6"/><circle cx="696.6" cy="141.6" r="2.6"/><circle cx="696.1" cy="137.1" r="2.6"/><circle cx="697.2" cy="141.5" r="2.6"/><circle cx="697.0" cy="141.6" r="2.6"/><circle cx="697.5" cy="135.4" r="2.6"/><circle cx="698.3" cy="138.1" r="2.6"/><circle cx="698.1" cy="136.7" r="2.6"/><circle cx="698.2" cy="135.8" r="2.6"/><circle cx="699.1" cy="133.5" r="2.6"/><circle cx="699.0" cy="132.2" r="2.6"/><circle cx="699.8" cy="137.2" r="2.6"/><circle cx="699.7" cy="132.2" r="2.6"/><circle cx="700.6" cy="135.4" r="2.6"/><circle cx="700.8" cy="131.0" r="2.6"/><circle cx="702.0" cy="134.5" r="2.6"/><circle cx="701.4" cy="127.3" r="2.6"/><circle cx="702.5" cy="131.3" r="2.6"/><circle cx="702.5" cy="126.5" r="2.6"/><circle cx="702.4" cy="129.3" r="2.6"/><circle cx="703.3" cy="133.9" r="2.6"/><circle cx="703.4" cy="134.0" r="2.6"/><circle cx="703.7" cy="133.2" r="2.6"/><circle cx="704.1" cy="129.8" r="2.6"/><circle cx="704.6" cy="124.3" r="2.6"/><circle cx="704.3" cy="133.1" r="2.6"/><circle cx="705.1" cy="118.6" r="2.6"/><circle cx="705.3" cy="130.3" r="2.6"/><circle cx="705.5" cy="126.0" r="2.6"/><circle cx="706.4" cy="125.4" r="2.6"/><circle cx="706.3" cy="118.8" r="2.6"/><circle cx="706.0" cy="119.4" r="2.6"/><circle cx="707.0" cy="116.1" r="2.6"/><circle cx="706.9" cy="124.7" r="2.6"/><circle cx="707.2" cy="122.8" r="2.6"/><circle cx="708.1" cy="126.9" r="2.6"/><circle cx="707.9" cy="123.0" r="2.6"/><circle cx="708.1" cy="116.3" r="2.6"/><circle cx="707.7" cy="113.9" r="2.6"/><circle cx="708.6" cy="117.4" r="2.6"/><circle cx="709.1" cy="126.5" r="2.6"/><circle cx="708.9" cy="126.9" r="2.6"/><circle cx="709.1" cy="120.2" r="2.6"/><circle cx="709.7" cy="114.1" r="2.6"/><circle cx="709.9" cy="125.5" r="2.6"/><circle cx="709.5" cy="117.3" r="2.6"/><circle cx="709.8" cy="113.8" r="2.6"/><circle cx="710.9" cy="119.3" r="2.6"/><circle cx="710.6" cy="112.5" r="2.6"/><circle cx="710.8" cy="122.7" r="2.6"/><circle cx="710.6" cy="124.4" r="2.6"/><circle cx="711.6" cy="111.0" r="2.6"/><circle cx="711.6" cy="124.6" r="2.6"/><circle cx="711.6" cy="125.9" r="2.6"/><circle cx="711.3" cy="118.2" r="2.6"/><circle cx="712.7" cy="113.1" r="2.6"/><circle cx="712.2" cy="112.4" r="2.6"/><circle cx="712.3" cy="111.1" r="2.6"/><circle cx="712.6" cy="113.6" r="2.6"/><circle cx="713.4" cy="109.5" r="2.6"/><circle cx="713.5" cy="118.8" r="2.6"/><circle cx="713.2" cy="118.4" r="2.6"/><circle cx="714.3" cy="120.9" r="2.6"/><circle cx="714.2" cy="110.4" r="2.6"/><circle cx="714.1" cy="111.6" r="2.6"/><circle cx="714.2" cy="117.4" r="2.6"/><circle cx="715.2" cy="119.3" r="2.6"/><circle cx="715.3" cy="123.4" r="2.6"/><circle cx="715.0" cy="112.4" r="2.6"/><circle cx="716.1" cy="124.8" r="2.6"/><circle cx="716.0" cy="116.5" r="2.6"/><circle cx="716.4" cy="117.0" r="2.6"/><circle cx="716.3" cy="123.4" r="2.6"/><circle cx="717.3" cy="114.7" r="2.6"/><circle cx="717.2" cy="116.1" r="2.6"/><circle cx="717.2" cy="117.6" r="2.6"/><circle cx="718.2" cy="124.0" r="2.6"/><circle cx="717.7" cy="112.4" r="2.6"/><circle cx="717.9" cy="119.2" r="2.6"/><circle cx="718.0" cy="125.6" r="2.6"/><circle cx="718.8" cy="120.0" r="2.6"/><circle cx="718.5" cy="113.3" r="2.6"/><circle cx="718.6" cy="118.6" r="2.6"/><circle cx="719.9" cy="124.0" r="2.6"/><circle cx="719.9" cy="126.3" r="2.6"/><circle cx="719.4" cy="122.0" r="2.6"/><circle cx="719.8" cy="124.5" r="2.6"/><circle cx="720.9" cy="123.2" r="2.6"/><circle cx="720.7" cy="117.6" r="2.6"/><circle cx="720.5" cy="121.3" r="2.6"/><circle cx="721.4" cy="120.5" r="2.6"/><circle cx="721.6" cy="127.4" r="2.6"/><circle cx="721.3" cy="118.5" r="2.6"/><circle cx="722.4" cy="128.0" r="2.6"/><circle cx="722.4" cy="122.2" r="2.6"/><circle cx="722.2" cy="118.9" r="2.6"/><circle cx="723.2" cy="117.7" r="2.6"/><circle cx="723.1" cy="119.9" r="2.6"/><circle cx="723.1" cy="121.4" r="2.6"/><circle cx="724.3" cy="128.0" r="2.6"/><circle cx="724.0" cy="124.8" r="2.6"/><circle cx="724.3" cy="124.3" r="2.6"/><circle cx="725.0" cy="124.7" r="2.6"/><circle cx="724.9" cy="125.6" r="2.6"/><circle cx="724.9" cy="123.5" r="2.6"/><circle cx="725.9" cy="122.9" r="2.6"/><circle cx="726.2" cy="125.9" r="2.6"/><circle cx="725.8" cy="117.4" r="2.6"/><circle cx="727.1" cy="125.8" r="2.6"/><circle cx="726.7" cy="122.4" r="2.6"/><circle cx="726.6" cy="134.0" r="2.6"/><circle cx="727.1" cy="122.6" r="2.6"/><circle cx="727.6" cy="119.5" r="2.6"/><circle cx="727.6" cy="125.4" r="2.6"/><circle cx="728.1" cy="126.3" r="2.6"/><circle cx="727.9" cy="131.6" r="2.6"/><circle cx="728.9" cy="125.7" r="2.6"/><circle cx="728.9" cy="126.0" r="2.6"/><circle cx="728.7" cy="132.2" r="2.6"/><circle cx="728.8" cy="131.1" r="2.6"/><circle cx="729.4" cy="135.4" r="2.6"/><circle cx="729.8" cy="129.6" r="2.6"/><circle cx="729.3" cy="135.9" r="2.6"/><circle cx="729.8" cy="134.4" r="2.6"/><circle cx="729.7" cy="138.6" r="2.6"/><circle cx="730.7" cy="140.0" r="2.6"/><circle cx="730.6" cy="132.2" r="2.6"/><circle cx="730.4" cy="129.1" r="2.6"/><circle cx="730.5" cy="136.4" r="2.6"/><circle cx="731.3" cy="135.7" r="2.6"/><circle cx="731.3" cy="127.3" r="2.6"/><circle cx="731.6" cy="129.2" r="2.6"/><circle cx="731.6" cy="132.4" r="2.6"/><circle cx="732.3" cy="130.6" r="2.6"/><circle cx="732.3" cy="125.4" r="2.6"/><circle cx="732.1" cy="127.8" r="2.6"/><circle cx="732.6" cy="124.6" r="2.6"/><circle cx="733.2" cy="138.3" r="2.6"/><circle cx="733.4" cy="138.2" r="2.6"/><circle cx="732.9" cy="140.5" r="2.6"/><circle cx="732.9" cy="125.6" r="2.6"/><circle cx="734.4" cy="130.5" r="2.6"/><circle cx="734.1" cy="138.3" r="2.6"/><circle cx="734.1" cy="135.6" r="2.6"/><circle cx="734.2" cy="131.2" r="2.6"/><circle cx="735.1" cy="127.2" r="2.6"/><circle cx="735.0" cy="131.2" r="2.6"/><circle cx="734.8" cy="127.1" r="2.6"/><circle cx="734.9" cy="137.2" r="2.6"/><circle cx="735.9" cy="129.6" r="2.6"/><circle cx="735.9" cy="129.8" r="2.6"/><circle cx="736.0" cy="134.6" r="2.6"/><circle cx="736.2" cy="135.9" r="2.6"/><circle cx="736.7" cy="128.1" r="2.6"/><circle cx="737.1" cy="132.1" r="2.6"/><circle cx="737.0" cy="123.0" r="2.6"/><circle cx="737.9" cy="121.6" r="2.6"/><circle cx="738.0" cy="131.6" r="2.6"/><circle cx="737.9" cy="129.0" r="2.6"/><circle cx="738.6" cy="121.6" r="2.6"/><circle cx="738.4" cy="123.1" r="2.6"/><circle cx="738.4" cy="125.6" r="2.6"/><circle cx="739.6" cy="126.3" r="2.6"/><circle cx="739.2" cy="123.5" r="2.6"/><circle cx="739.4" cy="130.6" r="2.6"/><circle cx="740.3" cy="122.7" r="2.6"/><circle cx="740.6" cy="127.0" r="2.6"/><circle cx="740.5" cy="119.3" r="2.6"/><circle cx="741.2" cy="121.3" r="2.6"/><circle cx="741.4" cy="124.7" r="2.6"/><circle cx="741.3" cy="125.3" r="2.6"/><circle cx="742.0" cy="125.6" r="2.6"/><circle cx="742.4" cy="123.9" r="2.6"/><circle cx="742.0" cy="120.8" r="2.6"/><circle cx="743.3" cy="121.6" r="2.6"/><circle cx="743.2" cy="125.1" r="2.6"/></g>
<g fill="#ff0a3c"><circle cx="468.8" cy="301.9" r="2.6"/><circle cx="468.6" cy="301.1" r="2.6"/><circle cx="468.5" cy="312.8" r="2.6"/><circle cx="468.6" cy="305.9" r="2.6"/><circle cx="469.5" cy="320.3" r="2.6"/><circle cx="469.3" cy="314.0" r="2.6"/><circle cx="469.8" cy="309.5" r="2.6"/><circle cx="469.6" cy="311.5" r="2.6"/><circle cx="470.7" cy="314.8" r="2.6"/><circle cx="470.4" cy="319.1" r="2.6"/><circle cx="470.7" cy="310.4" r="2.6"/><circle cx="470.7" cy="305.5" r="2.6"/><circle cx="470.4" cy="326.4" r="2.6"/><circle cx="471.2" cy="332.8" r="2.6"/><circle cx="471.3" cy="320.0" r="2.6"/><circle cx="471.6" cy="332.5" r="2.6"/><circle cx="471.4" cy="313.0" r="2.6"/><circle cx="471.6" cy="317.1" r="2.6"/><circle cx="471.2" cy="326.1" r="2.6"/><circle cx="472.3" cy="319.4" r="2.6"/><circle cx="472.2" cy="314.0" r="2.6"/><circle cx="472.2" cy="338.8" r="2.6"/><circle cx="472.0" cy="317.3" r="2.6"/><circle cx="472.1" cy="325.9" r="2.6"/><circle cx="472.5" cy="311.7" r="2.6"/><circle cx="473.1" cy="319.3" r="2.6"/><circle cx="473.0" cy="317.8" r="2.6"/><circle cx="473.3" cy="320.4" r="2.6"/><circle cx="473.0" cy="319.1" r="2.6"/><circle cx="473.1" cy="313.3" r="2.6"/><circle cx="473.4" cy="331.2" r="2.6"/><circle cx="474.2" cy="327.7" r="2.6"/><circle cx="474.0" cy="337.2" r="2.6"/><circle cx="474.4" cy="336.5" r="2.6"/><circle cx="473.9" cy="320.7" r="2.6"/><circle cx="474.4" cy="325.5" r="2.6"/><circle cx="474.9" cy="326.0" r="2.6"/><circle cx="475.2" cy="330.6" r="2.6"/><circle cx="475.1" cy="324.0" r="2.6"/><circle cx="474.9" cy="335.7" r="2.6"/><circle cx="475.7" cy="335.8" r="2.6"/><circle cx="475.9" cy="329.3" r="2.6"/><circle cx="475.9" cy="340.0" r="2.6"/><circle cx="476.8" cy="339.3" r="2.6"/><circle cx="476.7" cy="333.2" r="2.6"/><circle cx="476.7" cy="337.5" r="2.6"/><circle cx="477.8" cy="330.2" r="2.6"/><circle cx="477.5" cy="341.3" r="2.6"/><circle cx="477.7" cy="332.6" r="2.6"/><circle cx="478.4" cy="336.1" r="2.6"/><circle cx="478.4" cy="332.6" r="2.6"/><circle cx="478.7" cy="328.6" r="2.6"/><circle cx="478.5" cy="332.8" r="2.6"/><circle cx="479.3" cy="344.0" r="2.6"/><circle cx="479.4" cy="341.6" r="2.6"/><circle cx="479.2" cy="343.5" r="2.6"/><circle cx="479.6" cy="343.1" r="2.6"/><circle cx="480.2" cy="334.6" r="2.6"/><circle cx="480.6" cy="335.7" r="2.6"/><circle cx="480.3" cy="340.1" r="2.6"/><circle cx="480.5" cy="340.8" r="2.6"/><circle cx="481.0" cy="331.2" r="2.6"/><circle cx="481.0" cy="345.2" r="2.6"/><circle cx="481.1" cy="342.0" r="2.6"/><circle cx="481.1" cy="341.7" r="2.6"/><circle cx="482.0" cy="336.6" r="2.6"/><circle cx="482.4" cy="330.8" r="2.6"/><circle cx="482.2" cy="335.4" r="2.6"/><circle cx="482.3" cy="341.0" r="2.6"/><circle cx="483.3" cy="338.2" r="2.6"/><circle cx="483.3" cy="342.3" r="2.6"/><circle cx="483.0" cy="336.8" r="2.6"/><circle cx="482.8" cy="331.0" r="2.6"/><circle cx="484.2" cy="342.0" r="2.6"/><circle cx="483.8" cy="332.2" r="2.6"/><circle cx="484.2" cy="335.7" r="2.6"/><circle cx="484.1" cy="333.3" r="2.6"/><circle cx="484.8" cy="345.0" r="2.6"/><circle cx="484.7" cy="339.0" r="2.6"/><circle cx="485.2" cy="346.0" r="2.6"/><circle cx="484.9" cy="347.7" r="2.6"/><circle cx="485.5" cy="346.4" r="2.6"/><circle cx="485.9" cy="347.5" r="2.6"/><circle cx="485.8" cy="349.5" r="2.6"/><circle cx="485.8" cy="345.0" r="2.6"/><circle cx="486.1" cy="341.1" r="2.6"/><circle cx="486.7" cy="349.7" r="2.6"/><circle cx="487.0" cy="331.8" r="2.6"/><circle cx="486.8" cy="348.2" r="2.6"/><circle cx="486.7" cy="350.8" r="2.6"/><circle cx="486.5" cy="337.2" r="2.6"/><circle cx="487.7" cy="340.7" r="2.6"/><circle cx="487.7" cy="342.1" r="2.6"/><circle cx="487.4" cy="336.6" r="2.6"/><circle cx="487.4" cy="339.5" r="2.6"/><circle cx="487.6" cy="334.9" r="2.6"/><circle cx="488.5" cy="357.0" r="2.6"/><circle cx="488.4" cy="342.4" r="2.6"/><circle cx="488.7" cy="341.1" r="2.6"/><circle cx="488.5" cy="355.7" r="2.6"/><circle cx="488.7" cy="337.2" r="2.6"/><circle cx="489.2" cy="351.8" r="2.6"/><circle cx="489.3" cy="350.1" r="2.6"/><circle cx="489.3" cy="346.9" r="2.6"/><circle cx="489.2" cy="354.1" r="2.6"/><circle cx="489.1" cy="355.7" r="2.6"/><circle cx="490.3" cy="342.6" r="2.6"/><circle cx="490.2" cy="354.1" r="2.6"/><circle cx="490.1" cy="348.3" r="2.6"/><circle cx="490.0" cy="340.7" r="2.6"/><circle cx="490.0" cy="345.5" r="2.6"/><circle cx="491.0" cy="356.2" r="2.6"/><circle cx="491.2" cy="341.8" r="2.6"/><circle cx="491.2" cy="355.4" r="2.6"/><circle cx="491.0" cy="361.1" r="2.6"/><circle cx="491.2" cy="352.1" r="2.6"/><circle cx="492.2" cy="359.2" r="2.6"/><circle cx="492.0" cy="353.5" r="2.6"/><circle cx="491.9" cy="353.2" r="2.6"/><circle cx="491.9" cy="359.6" r="2.6"/><circle cx="493.1" cy="355.8" r="2.6"/><circle cx="493.2" cy="357.1" r="2.6"/><circle cx="493.3" cy="346.3" r="2.6"/><circle cx="492.8" cy="344.1" r="2.6"/><circle cx="494.1" cy="356.4" r="2.6"/><circle cx="493.8" cy="354.7" r="2.6"/><circle cx="493.8" cy="346.8" r="2.6"/><circle cx="493.9" cy="344.1" r="2.6"/><circle cx="494.9" cy="355.9" r="2.6"/><circle cx="495.0" cy="345.2" r="2.6"/><circle cx="494.9" cy="341.7" r="2.6"/><circle cx="495.0" cy="351.1" r="2.6"/><circle cx="495.7" cy="350.2" r="2.6"/><circle cx="495.4" cy="350.3" r="2.6"/><circle cx="495.8" cy="344.6" r="2.6"/><circle cx="495.5" cy="347.0" r="2.6"/><circle cx="496.6" cy="357.6" r="2.6"/><circle cx="496.4" cy="344.5" r="2.6"/><circle cx="496.7" cy="343.8" r="2.6"/><circle cx="497.5" cy="355.4" r="2.6"/><circle cx="497.4" cy="355.6" r="2.6"/><circle cx="497.6" cy="354.7" r="2.6"/><circle cx="498.5" cy="350.3" r="2.6"/><circle cx="498.6" cy="349.4" r="2.6"/><circle cx="498.6" cy="350.5" r="2.6"/><circle cx="499.2" cy="349.7" r="2.6"/><circle cx="499.1" cy="351.6" r="2.6"/><circle cx="499.1" cy="353.1" r="2.6"/><circle cx="500.4" cy="352.8" r="2.6"/><circle cx="500.5" cy="359.4" r="2.6"/><circle cx="500.5" cy="358.6" r="2.6"/><circle cx="501.2" cy="358.6" r="2.6"/><circle cx="501.0" cy="348.3" r="2.6"/><circle cx="501.1" cy="356.7" r="2.6"/><circle cx="502.2" cy="355.1" r="2.6"/><circle cx="501.7" cy="357.5" r="2.6"/><circle cx="501.8" cy="352.4" r="2.6"/><circle cx="502.1" cy="353.1" r="2.6"/><circle cx="502.9" cy="350.1" r="2.6"/><circle cx="502.8" cy="358.8" r="2.6"/><circle cx="502.9" cy="354.4" r="2.6"/><circle cx="503.8" cy="355.8" r="2.6"/><circle cx="503.6" cy="351.3" r="2.6"/><circle cx="504.0" cy="352.3" r="2.6"/><circle cx="503.7" cy="363.6" r="2.6"/><circle cx="504.7" cy="358.9" r="2.6"/><circle cx="504.5" cy="354.3" r="2.6"/><circle cx="504.7" cy="358.3" r="2.6"/><circle cx="505.5" cy="359.7" r="2.6"/><circle cx="505.3" cy="361.0" r="2.6"/><circle cx="505.6" cy="352.2" r="2.6"/><circle cx="506.8" cy="360.9" r="2.6"/><circle cx="506.6" cy="363.7" r="2.6"/><circle cx="506.3" cy="364.5" r="2.6"/><circle cx="506.7" cy="353.2" r="2.6"/><circle cx="507.2" cy="354.4" r="2.6"/><circle cx="507.6" cy="368.5" r="2.6"/><circle cx="507.1" cy="361.4" r="2.6"/><circle cx="507.2" cy="365.2" r="2.6"/><circle cx="508.4" cy="351.9" r="2.6"/><circle cx="508.3" cy="362.4" r="2.6"/><circle cx="508.5" cy="355.5" r="2.6"/><circle cx="508.4" cy="357.0" r="2.6"/><circle cx="509.3" cy="362.2" r="2.6"/><circle cx="509.1" cy="368.7" r="2.6"/><circle cx="509.4" cy="367.8" r="2.6"/><circle cx="509.3" cy="354.9" r="2.6"/><circle cx="510.2" cy="354.0" r="2.6"/><circle cx="509.8" cy="358.6" r="2.6"/><circle cx="510.2" cy="365.3" r="2.6"/><circle cx="509.9" cy="369.2" r="2.6"/><circle cx="510.9" cy="366.1" r="2.6"/><circle cx="510.8" cy="353.6" r="2.6"/><circle cx="511.0" cy="368.3" r="2.6"/><circle cx="511.2" cy="363.8" r="2.6"/><circle cx="511.7" cy="353.4" r="2.6"/><circle cx="511.9" cy="351.7" r="2.6"/><circle cx="511.8" cy="353.3" r="2.6"/><circle cx="512.0" cy="365.6" r="2.6"/><circle cx="513.0" cy="353.7" r="2.6"/><circle cx="513.1" cy="366.5" r="2.6"/><circle cx="512.5" cy="360.6" r="2.6"/><circle cx="512.7" cy="363.2" r="2.6"/><circle cx="513.5" cy="358.4" r="2.6"/><circle cx="513.9" cy="365.1" r="2.6"/><circle cx="513.8" cy="363.8" r="2.6"/><circle cx="513.6" cy="350.0" r="2.6"/><circle cx="514.7" cy="348.9" r="2.6"/><circle cx="514.3" cy="362.1" r="2.6"/><circle cx="514.5" cy="353.4" r="2.6"/><circle cx="514.4" cy="362.6" r="2.6"/><circle cx="515.5" cy="354.3" r="2.6"/><circle cx="515.4" cy="343.1" r="2.6"/><circle cx="515.4" cy="345.7" r="2.6"/><circle cx="515.2" cy="349.6" r="2.6"/><circle cx="515.5" cy="351.8" r="2.6"/><circle cx="516.2" cy="339.0" r="2.6"/><circle cx="516.5" cy="348.7" r="2.6"/><circle cx="516.3" cy="360.2" r="2.6"/><circle cx="516.3" cy="339.6" r="2.6"/><circle cx="517.0" cy="342.0" r="2.6"/><circle cx="517.3" cy="348.8" r="2.6"/><circle cx="517.5" cy="347.9" r="2.6"/><circle cx="517.5" cy="357.5" r="2.6"/><circle cx="517.5" cy="358.3" r="2.6"/><circle cx="518.5" cy="349.2" r="2.6"/><circle cx="518.3" cy="343.5" r="2.6"/><circle cx="518.1" cy="341.8" r="2.6"/><circle cx="518.4" cy="352.6" r="2.6"/><circle cx="518.3" cy="354.2" r="2.6"/><circle cx="518.8" cy="348.1" r="2.6"/><circle cx="519.0" cy="342.5" r="2.6"/><circle cx="519.0" cy="346.4" r="2.6"/><circle cx="519.4" cy="343.6" r="2.6"/><circle cx="519.8" cy="342.1" r="2.6"/><circle cx="519.7" cy="339.8" r="2.6"/><circle cx="520.2" cy="339.7" r="2.6"/><circle cx="520.0" cy="341.8" r="2.6"/><circle cx="520.8" cy="345.0" r="2.6"/><circle cx="520.8" cy="340.5" r="2.6"/><circle cx="521.0" cy="338.2" r="2.6"/><circle cx="520.9" cy="336.5" r="2.6"/><circle cx="521.6" cy="341.4" r="2.6"/><circle cx="521.8" cy="350.6" r="2.6"/><circle cx="522.1" cy="345.3" r="2.6"/><circle cx="521.7" cy="337.3" r="2.6"/><circle cx="522.9" cy="343.0" r="2.6"/><circle cx="522.6" cy="349.5" r="2.6"/><circle cx="522.6" cy="337.7" r="2.6"/><circle cx="522.4" cy="343.8" r="2.6"/><circle cx="523.5" cy="341.0" r="2.6"/><circle cx="523.4" cy="347.0" r="2.6"/><circle cx="523.7" cy="340.4" r="2.6"/><circle cx="524.8" cy="346.1" r="2.6"/><circle cx="524.6" cy="340.4" r="2.6"/><circle cx="524.2" cy="347.2" r="2.6"/><circle cx="525.4" cy="348.4" r="2.6"/><circle cx="525.6" cy="341.4" r="2.6"/><circle cx="525.5" cy="338.6" r="2.6"/><circle cx="525.7" cy="339.3" r="2.6"/><circle cx="526.2" cy="340.3" r="2.6"/><circle cx="526.4" cy="346.2" r="2.6"/><circle cx="526.2" cy="344.8" r="2.6"/><circle cx="527.1" cy="340.7" r="2.6"/><circle cx="527.2" cy="335.4" r="2.6"/><circle cx="527.3" cy="343.8" r="2.6"/><circle cx="528.1" cy="340.7" r="2.6"/><circle cx="528.4" cy="333.9" r="2.6"/><circle cx="527.8" cy="347.6" r="2.6"/><circle cx="528.8" cy="342.7" r="2.6"/><circle cx="529.2" cy="337.0" r="2.6"/><circle cx="528.8" cy="333.6" r="2.6"/><circle cx="529.2" cy="334.5" r="2.6"/><circle cx="530.0" cy="336.3" r="2.6"/><circle cx="530.0" cy="336.9" r="2.6"/><circle cx="529.8" cy="336.5" r="2.6"/><circle cx="531.0" cy="330.1" r="2.6"/><circle cx="530.7" cy="334.2" r="2.6"/><circle cx="531.0" cy="334.7" r="2.6"/><circle cx="532.0" cy="328.4" r="2.6"/><circle cx="531.5" cy="327.2" r="2.6"/><circle cx="531.4" cy="328.8" r="2.6"/><circle cx="532.5" cy="325.1" r="2.6"/><circle cx="532.9" cy="325.9" r="2.6"/><circle cx="533.2" cy="321.0" r="2.6"/><circle cx="533.5" cy="309.5" r="2.6"/><circle cx="533.5" cy="308.4" r="2.6"/><circle cx="533.3" cy="310.3" r="2.6"/><circle cx="534.7" cy="313.2" r="2.6"/><circle cx="534.2" cy="309.9" r="2.6"/><circle cx="534.1" cy="310.4" r="2.6"/><circle cx="534.6" cy="318.9" r="2.6"/><circle cx="535.2" cy="320.5" r="2.6"/><circle cx="535.5" cy="314.0" r="2.6"/><circle cx="535.3" cy="315.8" r="2.6"/><circle cx="535.9" cy="317.7" r="2.6"/><circle cx="536.3" cy="308.4" r="2.6"/><circle cx="536.1" cy="315.7" r="2.6"/><circle cx="537.4" cy="308.7" r="2.6"/><circle cx="537.4" cy="314.6" r="2.6"/><circle cx="537.2" cy="312.8" r="2.6"/><circle cx="537.8" cy="311.8" r="2.6"/><circle cx="537.8" cy="311.9" r="2.6"/><circle cx="538.2" cy="313.9" r="2.6"/><circle cx="538.9" cy="313.2" r="2.6"/><circle cx="538.7" cy="321.4" r="2.6"/><circle cx="539.1" cy="312.3" r="2.6"/><circle cx="539.7" cy="313.7" r="2.6"/><circle cx="539.7" cy="319.4" r="2.6"/><circle cx="539.8" cy="320.2" r="2.6"/><circle cx="540.7" cy="313.5" r="2.6"/><circle cx="540.7" cy="319.9" r="2.6"/><circle cx="540.9" cy="318.9" r="2.6"/><circle cx="541.8" cy="323.9" r="2.6"/><circle cx="541.4" cy="317.1" r="2.6"/><circle cx="541.8" cy="322.5" r="2.6"/><circle cx="542.2" cy="317.4" r="2.6"/><circle cx="542.7" cy="313.7" r="2.6"/><circle cx="542.3" cy="314.9" r="2.6"/><circle cx="542.6" cy="326.6" r="2.6"/><circle cx="543.3" cy="316.7" r="2.6"/><circle cx="543.7" cy="324.0" r="2.6"/><circle cx="543.5" cy="315.6" r="2.6"/><circle cx="544.4" cy="333.2" r="2.6"/><circle cx="544.0" cy="315.6" r="2.6"/><circle cx="544.3" cy="319.4" r="2.6"/><circle cx="544.1" cy="329.7" r="2.6"/><circle cx="545.0" cy="318.2" r="2.6"/><circle cx="545.2" cy="316.1" r="2.6"/><circle cx="545.0" cy="339.4" r="2.6"/><circle cx="545.2" cy="323.3" r="2.6"/><circle cx="545.0" cy="336.7" r="2.6"/><circle cx="546.1" cy="320.0" r="2.6"/><circle cx="546.4" cy="334.8" r="2.6"/><circle cx="546.0" cy="328.9" r="2.6"/><circle cx="545.9" cy="319.1" r="2.6"/><circle cx="546.4" cy="325.2" r="2.6"/><circle cx="547.0" cy="335.1" r="2.6"/><circle cx="546.9" cy="323.8" r="2.6"/><circle cx="547.0" cy="321.4" r="2.6"/><circle cx="546.9" cy="323.5" r="2.6"/><circle cx="546.7" cy="318.7" r="2.6"/><circle cx="547.1" cy="318.1" r="2.6"/><circle cx="548.0" cy="330.8" r="2.6"/><circle cx="547.8" cy="330.9" r="2.6"/><circle cx="547.8" cy="334.5" r="2.6"/><circle cx="547.9" cy="341.8" r="2.6"/><circle cx="548.2" cy="339.1" r="2.6"/><circle cx="548.9" cy="327.0" r="2.6"/><circle cx="549.1" cy="327.6" r="2.6"/><circle cx="548.7" cy="320.8" r="2.6"/><circle cx="548.9" cy="342.6" r="2.6"/><circle cx="548.7" cy="317.3" r="2.6"/><circle cx="549.4" cy="322.1" r="2.6"/><circle cx="549.8" cy="320.1" r="2.6"/><circle cx="549.6" cy="338.0" r="2.6"/><circle cx="549.8" cy="336.6" r="2.6"/><circle cx="549.7" cy="339.7" r="2.6"/><circle cx="550.7" cy="339.9" r="2.6"/><circle cx="550.9" cy="317.2" r="2.6"/><circle cx="550.4" cy="334.7" r="2.6"/><circle cx="550.7" cy="337.2" r="2.6"/><circle cx="550.7" cy="329.1" r="2.6"/><circle cx="551.4" cy="332.7" r="2.6"/><circle cx="551.6" cy="325.5" r="2.6"/><circle cx="551.5" cy="328.5" r="2.6"/><circle cx="551.3" cy="330.5" r="2.6"/><circle cx="551.6" cy="331.9" r="2.6"/><circle cx="552.2" cy="335.9" r="2.6"/><circle cx="552.2" cy="326.1" r="2.6"/><circle cx="552.7" cy="331.7" r="2.6"/><circle cx="552.4" cy="327.2" r="2.6"/><circle cx="552.4" cy="326.2" r="2.6"/><circle cx="553.4" cy="332.9" r="2.6"/><circle cx="553.5" cy="319.8" r="2.6"/><circle cx="553.5" cy="318.3" r="2.6"/><circle cx="553.5" cy="333.1" r="2.6"/><circle cx="553.0" cy="324.9" r="2.6"/><circle cx="554.0" cy="333.2" r="2.6"/><circle cx="554.1" cy="332.8" r="2.6"/><circle cx="554.4" cy="316.2" r="2.6"/><circle cx="554.2" cy="316.9" r="2.6"/><circle cx="554.2" cy="319.3" r="2.6"/><circle cx="555.3" cy="322.3" r="2.6"/><circle cx="555.3" cy="337.1" r="2.6"/><circle cx="554.9" cy="329.7" r="2.6"/><circle cx="555.2" cy="323.7" r="2.6"/><circle cx="555.0" cy="324.4" r="2.6"/><circle cx="555.8" cy="318.4" r="2.6"/><circle cx="556.0" cy="321.7" r="2.6"/><circle cx="555.7" cy="321.0" r="2.6"/><circle cx="555.8" cy="322.0" r="2.6"/><circle cx="556.1" cy="313.0" r="2.6"/><circle cx="557.1" cy="320.6" r="2.6"/><circle cx="556.7" cy="318.5" r="2.6"/><circle cx="556.9" cy="333.1" r="2.6"/><circle cx="557.1" cy="314.8" r="2.6"/><circle cx="557.0" cy="328.2" r="2.6"/><circle cx="557.7" cy="313.7" r="2.6"/><circle cx="557.9" cy="323.5" r="2.6"/><circle cx="558.0" cy="321.6" r="2.6"/><circle cx="557.7" cy="330.1" r="2.6"/><circle cx="557.7" cy="319.9" r="2.6"/><circle cx="558.8" cy="335.6" r="2.6"/><circle cx="558.6" cy="317.8" r="2.6"/><circle cx="558.4" cy="336.7" r="2.6"/><circle cx="558.9" cy="330.4" r="2.6"/><circle cx="558.6" cy="322.2" r="2.6"/><circle cx="559.6" cy="326.3" r="2.6"/><circle cx="559.6" cy="335.8" r="2.6"/><circle cx="559.8" cy="332.4" r="2.6"/><circle cx="559.5" cy="315.3" r="2.6"/><circle cx="559.6" cy="328.6" r="2.6"/><circle cx="560.6" cy="326.2" r="2.6"/><circle cx="560.4" cy="327.3" r="2.6"/><circle cx="560.2" cy="327.8" r="2.6"/><circle cx="560.6" cy="334.8" r="2.6"/><circle cx="560.5" cy="331.4" r="2.6"/><circle cx="561.2" cy="334.5" r="2.6"/><circle cx="561.2" cy="320.4" r="2.6"/><circle cx="561.6" cy="322.6" r="2.6"/><circle cx="561.4" cy="319.5" r="2.6"/><circle cx="561.1" cy="335.5" r="2.6"/><circle cx="562.4" cy="333.8" r="2.6"/><circle cx="562.6" cy="329.0" r="2.6"/><circle cx="562.5" cy="320.0" r="2.6"/><circle cx="562.5" cy="333.4" r="2.6"/><circle cx="562.1" cy="327.6" r="2.6"/><circle cx="563.1" cy="328.8" r="2.6"/><circle cx="563.1" cy="317.9" r="2.6"/><circle cx="563.1" cy="338.9" r="2.6"/><circle cx="563.4" cy="323.6" r="2.6"/><circle cx="564.3" cy="327.7" r="2.6"/><circle cx="564.3" cy="325.8" r="2.6"/><circle cx="564.0" cy="317.7" r="2.6"/><circle cx="563.9" cy="323.2" r="2.6"/><circle cx="563.8" cy="335.5" r="2.6"/><circle cx="565.2" cy="323.8" r="2.6"/><circle cx="564.8" cy="325.8" r="2.6"/><circle cx="565.3" cy="326.3" r="2.6"/><circle cx="565.0" cy="328.4" r="2.6"/><circle cx="564.7" cy="323.6" r="2.6"/><circle cx="566.1" cy="326.4" r="2.6"/><circle cx="565.8" cy="323.7" r="2.6"/><circle cx="566.0" cy="327.2" r="2.6"/><circle cx="566.1" cy="321.8" r="2.6"/><circle cx="566.0" cy="320.6" r="2.6"/><circle cx="566.9" cy="334.7" r="2.6"/><circle cx="566.5" cy="324.3" r="2.6"/><circle cx="567.0" cy="333.5" r="2.6"/><circle cx="566.5" cy="316.0" r="2.6"/><circle cx="566.9" cy="324.0" r="2.6"/><circle cx="567.8" cy="333.8" r="2.6"/><circle cx="567.8" cy="326.4" r="2.6"/><circle cx="567.6" cy="331.3" r="2.6"/><circle cx="567.5" cy="325.1" r="2.6"/><circle cx="568.4" cy="317.9" r="2.6"/><circle cx="568.8" cy="332.5" r="2.6"/><circle cx="568.9" cy="319.1" r="2.6"/><circle cx="568.5" cy="317.1" r="2.6"/><circle cx="569.2" cy="319.8" r="2.6"/><circle cx="569.6" cy="331.0" r="2.6"/><circle cx="569.2" cy="327.2" r="2.6"/><circle cx="569.7" cy="318.1" r="2.6"/><circle cx="570.4" cy="319.0" r="2.6"/><circle cx="570.2" cy="324.6" r="2.6"/><circle cx="570.6" cy="320.3" r="2.6"/><circle cx="571.6" cy="327.6" r="2.6"/><circle cx="571.2" cy="317.3" r="2.6"/><circle cx="571.0" cy="326.9" r="2.6"/><circle cx="572.0" cy="323.4" r="2.6"/><circle cx="572.2" cy="317.8" r="2.6"/><circle cx="572.3" cy="322.1" r="2.6"/><circle cx="572.9" cy="322.6" r="2.6"/><circle cx="573.4" cy="315.9" r="2.6"/><circle cx="573.4" cy="324.4" r="2.6"/><circle cx="574.2" cy="319.0" r="2.6"/><circle cx="574.0" cy="316.2" r="2.6"/><circle cx="574.3" cy="316.9" r="2.6"/><circle cx="574.9" cy="316.5" r="2.6"/><circle cx="574.7" cy="321.1" r="2.6"/><circle cx="574.7" cy="317.8" r="2.6"/><circle cx="576.1" cy="320.2" r="2.6"/><circle cx="575.5" cy="319.5" r="2.6"/><circle cx="575.9" cy="311.3" r="2.6"/><circle cx="576.6" cy="311.0" r="2.6"/><circle cx="576.7" cy="319.7" r="2.6"/><circle cx="576.5" cy="315.5" r="2.6"/><circle cx="576.8" cy="306.7" r="2.6"/><circle cx="577.6" cy="316.3" r="2.6"/><circle cx="577.4" cy="308.9" r="2.6"/><circle cx="577.6" cy="305.5" r="2.6"/><circle cx="578.3" cy="312.3" r="2.6"/><circle cx="578.6" cy="310.3" r="2.6"/><circle cx="578.3" cy="303.8" r="2.6"/><circle cx="578.5" cy="311.1" r="2.6"/><circle cx="579.2" cy="307.9" r="2.6"/><circle cx="579.7" cy="312.3" r="2.6"/><circle cx="579.3" cy="304.7" r="2.6"/><circle cx="580.5" cy="314.4" r="2.6"/><circle cx="580.1" cy="308.4" r="2.6"/><circle cx="580.3" cy="303.3" r="2.6"/><circle cx="580.3" cy="302.5" r="2.6"/><circle cx="581.2" cy="308.0" r="2.6"/><circle cx="581.1" cy="303.4" r="2.6"/><circle cx="581.0" cy="309.1" r="2.6"/><circle cx="582.3" cy="304.6" r="2.6"/><circle cx="582.1" cy="303.5" r="2.6"/><circle cx="582.3" cy="305.2" r="2.6"/><circle cx="583.0" cy="316.2" r="2.6"/><circle cx="583.1" cy="309.5" r="2.6"/><circle cx="582.8" cy="314.0" r="2.6"/><circle cx="583.9" cy="305.2" r="2.6"/><circle cx="583.8" cy="306.8" r="2.6"/><circle cx="584.1" cy="303.4" r="2.6"/><circle cx="583.7" cy="308.7" r="2.6"/><circle cx="584.5" cy="306.6" r="2.6"/><circle cx="584.6" cy="311.9" r="2.6"/><circle cx="584.9" cy="314.7" r="2.6"/><circle cx="585.1" cy="313.7" r="2.6"/><circle cx="585.6" cy="312.4" r="2.6"/><circle cx="585.9" cy="313.6" r="2.6"/><circle cx="585.7" cy="315.5" r="2.6"/><circle cx="586.4" cy="302.4" r="2.6"/><circle cx="586.4" cy="317.4" r="2.6"/><circle cx="586.7" cy="308.9" r="2.6"/><circle cx="586.7" cy="308.8" r="2.6"/><circle cx="587.3" cy="307.1" r="2.6"/><circle cx="587.4" cy="304.0" r="2.6"/><circle cx="587.8" cy="304.9" r="2.6"/></g>
<g fill="#ff0a3c"><circle cx="589.8" cy="266.7" r="2.6"/><circle cx="589.8" cy="262.2" r="2.6"/><circle cx="589.7" cy="262.5" r="2.6"/><circle cx="589.4" cy="266.5" r="2.6"/><circle cx="590.6" cy="268.4" r="2.6"/><circle cx="590.4" cy="267.6" r="2.6"/><circle cx="590.3" cy="257.8" r="2.6"/><circle cx="591.7" cy="267.0" r="2.6"/><circle cx="591.6" cy="268.0" r="2.6"/><circle cx="591.5" cy="259.5" r="2.6"/><circle cx="591.6" cy="269.1" r="2.6"/><circle cx="592.5" cy="266.9" r="2.6"/><circle cx="592.2" cy="264.8" r="2.6"/><circle cx="592.6" cy="270.0" r="2.6"/><circle cx="592.3" cy="269.5" r="2.6"/><circle cx="593.4" cy="261.6" r="2.6"/><circle cx="593.0" cy="272.9" r="2.6"/><circle cx="593.0" cy="270.5" r="2.6"/><circle cx="593.2" cy="263.4" r="2.6"/><circle cx="594.2" cy="267.6" r="2.6"/><circle cx="594.0" cy="273.0" r="2.6"/><circle cx="594.3" cy="270.1" r="2.6"/><circle cx="594.8" cy="274.0" r="2.6"/><circle cx="595.1" cy="278.4" r="2.6"/><circle cx="595.2" cy="276.4" r="2.6"/><circle cx="594.9" cy="269.3" r="2.6"/><circle cx="595.7" cy="282.1" r="2.6"/><circle cx="596.1" cy="281.2" r="2.6"/><circle cx="595.9" cy="263.9" r="2.6"/><circle cx="596.0" cy="274.5" r="2.6"/><circle cx="595.9" cy="264.2" r="2.6"/><circle cx="596.7" cy="271.2" r="2.6"/><circle cx="596.9" cy="275.2" r="2.6"/><circle cx="596.8" cy="288.9" r="2.6"/><circle cx="596.9" cy="282.6" r="2.6"/><circle cx="597.0" cy="273.4" r="2.6"/><circle cx="596.6" cy="267.7" r="2.6"/><circle cx="597.9" cy="268.1" r="2.6"/><circle cx="597.8" cy="295.0" r="2.6"/><circle cx="597.9" cy="273.0" r="2.6"/><circle cx="597.6" cy="276.0" r="2.6"/><circle cx="597.7" cy="299.6" r="2.6"/><circle cx="598.0" cy="279.1" r="2.6"/><circle cx="597.7" cy="274.4" r="2.6"/><circle cx="598.8" cy="275.8" r="2.6"/><circle cx="598.5" cy="301.9" r="2.6"/><circle cx="598.5" cy="274.7" r="2.6"/><circle cx="598.4" cy="289.6" r="2.6"/><circle cx="598.6" cy="268.1" r="2.6"/><circle cx="598.8" cy="275.3" r="2.6"/><circle cx="598.6" cy="306.6" r="2.6"/><circle cx="598.5" cy="286.6" r="2.6"/><circle cx="599.6" cy="303.8" r="2.6"/><circle cx="599.4" cy="295.1" r="2.6"/><circle cx="599.5" cy="272.5" r="2.6"/><circle cx="599.6" cy="293.4" r="2.6"/><circle cx="599.7" cy="286.6" r="2.6"/><circle cx="599.5" cy="306.2" r="2.6"/><circle cx="599.4" cy="283.4" r="2.6"/><circle cx="599.8" cy="294.9" r="2.6"/><circle cx="600.5" cy="297.3" r="2.6"/><circle cx="600.5" cy="292.6" r="2.6"/><circle cx="600.1" cy="288.7" r="2.6"/><circle cx="600.3" cy="285.2" r="2.6"/><circle cx="600.2" cy="294.7" r="2.6"/><circle cx="600.7" cy="299.1" r="2.6"/><circle cx="601.4" cy="276.5" r="2.6"/><circle cx="601.4" cy="287.2" r="2.6"/><circle cx="601.2" cy="286.9" r="2.6"/><circle cx="601.5" cy="274.1" r="2.6"/><circle cx="601.2" cy="282.5" r="2.6"/><circle cx="602.3" cy="282.9" r="2.6"/><circle cx="602.1" cy="293.6" r="2.6"/><circle cx="602.5" cy="287.2" r="2.6"/><circle cx="602.3" cy="290.2" r="2.6"/><circle cx="603.3" cy="281.0" r="2.6"/><circle cx="603.0" cy="279.2" r="2.6"/><circle cx="602.9" cy="285.7" r="2.6"/><circle cx="603.1" cy="289.7" r="2.6"/><circle cx="603.7" cy="279.5" r="2.6"/><circle cx="603.9" cy="287.4" r="2.6"/><circle cx="603.9" cy="279.7" r="2.6"/><circle cx="604.3" cy="281.6" r="2.6"/><circle cx="604.8" cy="279.1" r="2.6"/><circle cx="604.9" cy="280.7" r="2.6"/><circle cx="604.7" cy="288.8" r="2.6"/><circle cx="604.8" cy="279.2" r="2.6"/><circle cx="605.6" cy="280.7" r="2.6"/><circle cx="606.0" cy="287.6" r="2.6"/><circle cx="605.8" cy="279.3" r="2.6"/><circle cx="606.5" cy="282.5" r="2.6"/><circle cx="606.9" cy="284.1" r="2.6"/><circle cx="606.7" cy="279.0" r="2.6"/><circle cx="607.5" cy="282.1" r="2.6"/><circle cx="607.9" cy="283.0" r="2.6"/><circle cx="607.6" cy="277.9" r="2.6"/><circle cx="608.2" cy="281.6" r="2.6"/><circle cx="608.7" cy="277.3" r="2.6"/><circle cx="608.5" cy="283.3" r="2.6"/><circle cx="609.1" cy="285.5" r="2.6"/><circle cx="609.4" cy="277.1" r="2.6"/><circle cx="609.6" cy="276.8" r="2.6"/><circle cx="610.2" cy="278.9" r="2.6"/><circle cx="610.4" cy="284.0" r="2.6"/><circle cx="610.6" cy="274.9" r="2.6"/><circle cx="611.5" cy="282.6" r="2.6"/><circle cx="611.3" cy="283.8" r="2.6"/><circle cx="611.1" cy="278.6" r="2.6"/><circle cx="612.3" cy="284.4" r="2.6"/><circle cx="612.1" cy="277.9" r="2.6"/><circle cx="612.1" cy="275.5" r="2.6"/><circle cx="612.9" cy="286.0" r="2.6"/><circle cx="613.0" cy="274.6" r="2.6"/><circle cx="613.2" cy="277.6" r="2.6"/><circle cx="613.1" cy="273.6" r="2.6"/><circle cx="614.1" cy="278.4" r="2.6"/><circle cx="614.1" cy="281.1" r="2.6"/><circle cx="613.7" cy="276.5" r="2.6"/><circle cx="614.0" cy="285.2" r="2.6"/><circle cx="615.0" cy="279.9" r="2.6"/><circle cx="614.9" cy="286.1" r="2.6"/><circle cx="615.0" cy="286.1" r="2.6"/><circle cx="614.6" cy="283.7" r="2.6"/><circle cx="615.8" cy="283.3" r="2.6"/><circle cx="615.9" cy="281.8" r="2.6"/><circle cx="615.6" cy="276.6" r="2.6"/><circle cx="615.5" cy="273.4" r="2.6"/><circle cx="616.8" cy="274.1" r="2.6"/><circle cx="616.5" cy="283.0" r="2.6"/><circle cx="616.7" cy="287.6" r="2.6"/><circle cx="617.6" cy="285.7" r="2.6"/><circle cx="617.3" cy="277.9" r="2.6"/><circle cx="617.4" cy="273.0" r="2.6"/><circle cx="618.1" cy="280.0" r="2.6"/><circle cx="618.6" cy="281.6" r="2.6"/><circle cx="618.2" cy="285.4" r="2.6"/><circle cx="619.3" cy="282.7" r="2.6"/><circle cx="619.1" cy="278.5" r="2.6"/><circle cx="619.5" cy="278.3" r="2.6"/><circle cx="619.9" cy="285.5" r="2.6"/><circle cx="620.4" cy="285.1" r="2.6"/><circle cx="619.9" cy="281.3" r="2.6"/><circle cx="621.2" cy="279.7" r="2.6"/><circle cx="621.2" cy="274.9" r="2.6"/><circle cx="621.0" cy="282.5" r="2.6"/><circle cx="622.3" cy="281.8" r="2.6"/><circle cx="622.2" cy="277.1" r="2.6"/><circle cx="622.3" cy="285.4" r="2.6"/><circle cx="622.7" cy="286.7" r="2.6"/><circle cx="622.9" cy="275.2" r="2.6"/><circle cx="623.0" cy="280.3" r="2.6"/><circle cx="623.7" cy="280.0" r="2.6"/><circle cx="623.7" cy="278.6" r="2.6"/><circle cx="623.6" cy="276.8" r="2.6"/><circle cx="624.8" cy="280.7" r="2.6"/><circle cx="624.5" cy="279.8" r="2.6"/><circle cx="624.6" cy="276.9" r="2.6"/><circle cx="625.9" cy="282.8" r="2.6"/><circle cx="625.9" cy="285.9" r="2.6"/><circle cx="625.7" cy="283.4" r="2.6"/><circle cx="626.7" cy="275.8" r="2.6"/><circle cx="626.6" cy="277.3" r="2.6"/><circle cx="626.6" cy="275.2" r="2.6"/><circle cx="627.7" cy="279.2" r="2.6"/><circle cx="627.3" cy="277.1" r="2.6"/><circle cx="627.1" cy="282.1" r="2.6"/><circle cx="628.5" cy="279.3" r="2.6"/><circle cx="628.3" cy="284.8" r="2.6"/><circle cx="629.4" cy="277.1" r="2.6"/><circle cx="629.2" cy="277.6" r="2.6"/><circle cx="630.3" cy="284.8" r="2.6"/><circle cx="629.9" cy="283.7" r="2.6"/><circle cx="629.9" cy="280.8" r="2.6"/></g>
<g fill="#ff0a3c"><circle cx="627.4" cy="310.5" r="2.6"/><circle cx="627.9" cy="306.4" r="2.6"/><circle cx="627.8" cy="307.0" r="2.6"/><circle cx="628.8" cy="317.3" r="2.6"/><circle cx="628.8" cy="309.6" r="2.6"/><circle cx="628.4" cy="313.8" r="2.6"/><circle cx="628.3" cy="308.8" r="2.6"/><circle cx="629.7" cy="311.9" r="2.6"/><circle cx="629.7" cy="308.8" r="2.6"/><circle cx="629.5" cy="303.4" r="2.6"/><circle cx="630.3" cy="316.7" r="2.6"/><circle cx="630.5" cy="311.3" r="2.6"/><circle cx="630.6" cy="304.1" r="2.6"/><circle cx="631.2" cy="313.1" r="2.6"/><circle cx="631.1" cy="306.2" r="2.6"/><circle cx="631.4" cy="306.8" r="2.6"/><circle cx="631.1" cy="317.4" r="2.6"/><circle cx="632.3" cy="310.3" r="2.6"/><circle cx="632.2" cy="312.4" r="2.6"/><circle cx="631.9" cy="313.3" r="2.6"/><circle cx="633.2" cy="303.4" r="2.6"/><circle cx="632.9" cy="310.6" r="2.6"/><circle cx="633.2" cy="309.4" r="2.6"/><circle cx="633.2" cy="314.1" r="2.6"/><circle cx="633.8" cy="304.9" r="2.6"/><circle cx="634.3" cy="318.6" r="2.6"/><circle cx="633.8" cy="313.1" r="2.6"/><circle cx="633.9" cy="303.4" r="2.6"/><circle cx="634.7" cy="317.4" r="2.6"/><circle cx="635.2" cy="313.9" r="2.6"/><circle cx="635.1" cy="315.9" r="2.6"/><circle cx="634.6" cy="302.8" r="2.6"/><circle cx="636.1" cy="306.4" r="2.6"/><circle cx="635.9" cy="319.2" r="2.6"/><circle cx="636.1" cy="306.0" r="2.6"/><circle cx="635.7" cy="314.4" r="2.6"/><circle cx="636.8" cy="302.1" r="2.6"/><circle cx="636.5" cy="315.6" r="2.6"/><circle cx="636.9" cy="303.7" r="2.6"/><circle cx="636.5" cy="319.5" r="2.6"/><circle cx="637.3" cy="303.1" r="2.6"/><circle cx="637.8" cy="315.7" r="2.6"/><circle cx="637.6" cy="317.5" r="2.6"/><circle cx="637.8" cy="318.0" r="2.6"/><circle cx="638.2" cy="312.0" r="2.6"/><circle cx="638.5" cy="311.6" r="2.6"/><circle cx="638.4" cy="315.4" r="2.6"/><circle cx="638.4" cy="301.9" r="2.6"/><circle cx="639.4" cy="313.9" r="2.6"/><circle cx="639.2" cy="300.2" r="2.6"/><circle cx="639.5" cy="315.5" r="2.6"/><circle cx="639.2" cy="315.1" r="2.6"/><circle cx="640.1" cy="301.1" r="2.6"/><circle cx="640.4" cy="317.7" r="2.6"/><circle cx="640.5" cy="309.4" r="2.6"/><circle cx="640.5" cy="305.7" r="2.6"/><circle cx="641.3" cy="305.3" r="2.6"/><circle cx="641.5" cy="304.1" r="2.6"/><circle cx="641.4" cy="312.9" r="2.6"/><circle cx="640.9" cy="301.1" r="2.6"/><circle cx="642.1" cy="299.7" r="2.6"/><circle cx="642.0" cy="310.8" r="2.6"/><circle cx="642.2" cy="309.0" r="2.6"/><circle cx="642.2" cy="307.5" r="2.6"/><circle cx="642.7" cy="310.9" r="2.6"/><circle cx="643.1" cy="312.1" r="2.6"/><circle cx="643.2" cy="314.3" r="2.6"/><circle cx="643.0" cy="312.9" r="2.6"/><circle cx="643.2" cy="310.5" r="2.6"/><circle cx="643.8" cy="314.2" r="2.6"/><circle cx="643.8" cy="304.6" r="2.6"/><circle cx="643.8" cy="309.6" r="2.6"/><circle cx="643.7" cy="300.9" r="2.6"/><circle cx="645.0" cy="314.2" r="2.6"/><circle cx="645.1" cy="307.9" r="2.6"/><circle cx="645.0" cy="313.2" r="2.6"/><circle cx="644.7" cy="310.0" r="2.6"/><circle cx="646.0" cy="302.6" r="2.6"/><circle cx="645.6" cy="295.1" r="2.6"/><circle cx="645.9" cy="299.1" r="2.6"/><circle cx="645.9" cy="311.6" r="2.6"/><circle cx="646.7" cy="309.1" r="2.6"/><circle cx="646.5" cy="304.1" r="2.6"/><circle cx="646.6" cy="296.0" r="2.6"/><circle cx="646.9" cy="309.7" r="2.6"/><circle cx="646.4" cy="299.9" r="2.6"/><circle cx="647.7" cy="305.7" r="2.6"/><circle cx="647.6" cy="303.5" r="2.6"/><circle cx="647.8" cy="311.2" r="2.6"/><circle cx="647.3" cy="301.0" r="2.6"/><circle cx="648.5" cy="298.0" r="2.6"/><circle cx="648.7" cy="309.8" r="2.6"/><circle cx="648.2" cy="292.8" r="2.6"/><circle cx="648.4" cy="297.5" r="2.6"/><circle cx="649.2" cy="305.0" r="2.6"/><circle cx="649.0" cy="306.0" r="2.6"/><circle cx="649.4" cy="306.2" r="2.6"/><circle cx="649.1" cy="296.5" r="2.6"/><circle cx="650.3" cy="309.7" r="2.6"/><circle cx="650.3" cy="303.3" r="2.6"/><circle cx="650.1" cy="302.3" r="2.6"/><circle cx="649.9" cy="303.6" r="2.6"/><circle cx="651.1" cy="289.8" r="2.6"/><circle cx="651.4" cy="296.9" r="2.6"/><circle cx="651.2" cy="292.4" r="2.6"/><circle cx="651.0" cy="291.8" r="2.6"/><circle cx="652.0" cy="292.1" r="2.6"/><circle cx="652.1" cy="290.5" r="2.6"/><circle cx="651.8" cy="294.7" r="2.6"/><circle cx="652.3" cy="296.9" r="2.6"/><circle cx="651.9" cy="302.8" r="2.6"/><circle cx="653.0" cy="287.9" r="2.6"/><circle cx="652.8" cy="305.1" r="2.6"/><circle cx="652.6" cy="292.1" r="2.6"/><circle cx="652.7" cy="305.6" r="2.6"/><circle cx="653.1" cy="304.5" r="2.6"/><circle cx="653.6" cy="300.7" r="2.6"/><circle cx="653.6" cy="299.1" r="2.6"/><circle cx="654.1" cy="300.7" r="2.6"/><circle cx="653.7" cy="290.1" r="2.6"/><circle cx="654.5" cy="297.9" r="2.6"/><circle cx="655.0" cy="290.1" r="2.6"/><circle cx="654.6" cy="286.5" r="2.6"/><circle cx="654.8" cy="285.3" r="2.6"/><circle cx="654.5" cy="304.3" r="2.6"/><circle cx="655.8" cy="289.7" r="2.6"/><circle cx="655.5" cy="292.4" r="2.6"/><circle cx="655.5" cy="296.0" r="2.6"/><circle cx="655.8" cy="286.5" r="2.6"/><circle cx="655.4" cy="289.6" r="2.6"/><circle cx="656.7" cy="288.0" r="2.6"/><circle cx="656.2" cy="291.9" r="2.6"/><circle cx="656.6" cy="291.5" r="2.6"/><circle cx="656.7" cy="298.0" r="2.6"/><circle cx="656.3" cy="294.0" r="2.6"/><circle cx="657.2" cy="292.6" r="2.6"/><circle cx="657.4" cy="284.9" r="2.6"/><circle cx="657.2" cy="293.1" r="2.6"/><circle cx="657.2" cy="299.1" r="2.6"/><circle cx="657.4" cy="284.4" r="2.6"/><circle cx="658.0" cy="283.3" r="2.6"/><circle cx="658.1" cy="290.3" r="2.6"/><circle cx="658.4" cy="292.9" r="2.6"/><circle cx="658.3" cy="304.0" r="2.6"/><circle cx="658.5" cy="294.9" r="2.6"/><circle cx="659.0" cy="301.7" r="2.6"/><circle cx="659.4" cy="283.9" r="2.6"/><circle cx="659.0" cy="303.8" r="2.6"/><circle cx="658.9" cy="293.8" r="2.6"/><circle cx="659.1" cy="287.0" r="2.6"/><circle cx="659.9" cy="291.9" r="2.6"/><circle cx="660.2" cy="298.4" r="2.6"/><circle cx="660.0" cy="282.6" r="2.6"/><circle cx="659.9" cy="291.7" r="2.6"/><circle cx="660.4" cy="288.5" r="2.6"/><circle cx="661.0" cy="284.7" r="2.6"/><circle cx="661.1" cy="280.6" r="2.6"/><circle cx="661.0" cy="296.2" r="2.6"/><circle cx="660.8" cy="292.9" r="2.6"/><circle cx="661.0" cy="280.9" r="2.6"/><circle cx="662.1" cy="295.9" r="2.6"/><circle cx="661.8" cy="283.4" r="2.6"/><circle cx="662.1" cy="299.6" r="2.6"/><circle cx="661.7" cy="303.1" r="2.6"/><circle cx="661.7" cy="298.1" r="2.6"/><circle cx="662.6" cy="301.8" r="2.6"/><circle cx="662.6" cy="281.5" r="2.6"/><circle cx="662.9" cy="284.8" r="2.6"/><circle cx="662.8" cy="280.3" r="2.6"/><circle cx="663.1" cy="290.3" r="2.6"/><circle cx="663.7" cy="296.0" r="2.6"/><circle cx="664.0" cy="279.3" r="2.6"/><circle cx="663.7" cy="302.7" r="2.6"/><circle cx="664.0" cy="284.8" r="2.6"/><circle cx="663.8" cy="290.9" r="2.6"/><circle cx="664.9" cy="299.6" r="2.6"/><circle cx="664.5" cy="283.6" r="2.6"/><circle cx="664.5" cy="303.7" r="2.6"/><circle cx="664.5" cy="290.0" r="2.6"/><circle cx="664.7" cy="284.2" r="2.6"/><circle cx="665.4" cy="287.6" r="2.6"/><circle cx="665.5" cy="282.2" r="2.6"/><circle cx="665.5" cy="299.1" r="2.6"/><circle cx="665.6" cy="278.1" r="2.6"/><circle cx="665.3" cy="293.5" r="2.6"/><circle cx="666.4" cy="280.5" r="2.6"/><circle cx="666.6" cy="302.1" r="2.6"/><circle cx="666.1" cy="281.2" r="2.6"/><circle cx="666.2" cy="280.9" r="2.6"/><circle cx="666.2" cy="290.8" r="2.6"/><circle cx="667.6" cy="288.2" r="2.6"/><circle cx="667.2" cy="287.1" r="2.6"/><circle cx="667.6" cy="299.7" r="2.6"/><circle cx="667.2" cy="293.8" r="2.6"/><circle cx="667.0" cy="299.0" r="2.6"/><circle cx="668.2" cy="278.1" r="2.6"/><circle cx="668.2" cy="275.8" r="2.6"/><circle cx="668.4" cy="283.1" r="2.6"/><circle cx="668.4" cy="283.1" r="2.6"/><circle cx="668.3" cy="301.3" r="2.6"/><circle cx="668.2" cy="298.7" r="2.6"/><circle cx="669.4" cy="281.0" r="2.6"/><circle cx="668.9" cy="292.3" r="2.6"/><circle cx="668.8" cy="290.3" r="2.6"/><circle cx="669.3" cy="296.2" r="2.6"/><circle cx="669.1" cy="298.9" r="2.6"/><circle cx="670.1" cy="292.6" r="2.6"/><circle cx="669.7" cy="280.4" r="2.6"/><circle cx="670.1" cy="279.9" r="2.6"/><circle cx="670.1" cy="283.5" r="2.6"/><circle cx="670.0" cy="287.9" r="2.6"/><circle cx="670.7" cy="294.9" r="2.6"/><circle cx="671.2" cy="272.6" r="2.6"/><circle cx="671.1" cy="285.8" r="2.6"/><circle cx="670.7" cy="291.5" r="2.6"/><circle cx="670.9" cy="292.4" r="2.6"/><circle cx="671.2" cy="290.6" r="2.6"/><circle cx="671.9" cy="283.1" r="2.6"/><circle cx="672.0" cy="299.0" r="2.6"/><circle cx="671.6" cy="297.2" r="2.6"/><circle cx="671.6" cy="278.0" r="2.6"/><circle cx="671.6" cy="292.5" r="2.6"/><circle cx="671.7" cy="281.7" r="2.6"/><circle cx="673.0" cy="274.3" r="2.6"/><circle cx="672.7" cy="282.2" r="2.6"/><circle cx="672.6" cy="282.6" r="2.6"/><circle cx="672.8" cy="272.6" r="2.6"/><circle cx="672.7" cy="287.3" r="2.6"/><circle cx="673.8" cy="283.6" r="2.6"/><circle cx="673.8" cy="269.7" r="2.6"/><circle cx="673.7" cy="289.4" r="2.6"/><circle cx="673.7" cy="274.0" r="2.6"/><circle cx="673.7" cy="280.2" r="2.6"/><circle cx="673.9" cy="297.9" r="2.6"/><circle cx="674.7" cy="291.3" r="2.6"/><circle cx="674.6" cy="277.1" r="2.6"/><circle cx="674.3" cy="275.8" r="2.6"/><circle cx="674.2" cy="293.0" r="2.6"/><circle cx="674.5" cy="286.3" r="2.6"/><circle cx="674.6" cy="293.9" r="2.6"/><circle cx="675.3" cy="268.9" r="2.6"/><circle cx="675.5" cy="266.9" r="2.6"/><circle cx="675.7" cy="272.1" r="2.6"/><circle cx="675.1" cy="288.4" r="2.6"/><circle cx="675.2" cy="266.8" r="2.6"/><circle cx="675.7" cy="273.9" r="2.6"/><circle cx="676.0" cy="270.2" r="2.6"/><circle cx="676.1" cy="276.2" r="2.6"/><circle cx="676.1" cy="282.1" r="2.6"/><circle cx="676.1" cy="275.7" r="2.6"/><circle cx="676.4" cy="278.8" r="2.6"/><circle cx="676.4" cy="280.7" r="2.6"/><circle cx="676.2" cy="273.7" r="2.6"/><circle cx="677.0" cy="288.0" r="2.6"/><circle cx="677.3" cy="275.3" r="2.6"/><circle cx="677.1" cy="280.2" r="2.6"/><circle cx="677.3" cy="270.3" r="2.6"/><circle cx="677.0" cy="294.5" r="2.6"/><circle cx="677.4" cy="282.5" r="2.6"/><circle cx="677.4" cy="265.9" r="2.6"/><circle cx="677.9" cy="282.5" r="2.6"/><circle cx="678.2" cy="269.3" r="2.6"/><circle cx="678.1" cy="286.5" r="2.6"/><circle cx="677.9" cy="289.7" r="2.6"/><circle cx="677.9" cy="289.3" r="2.6"/><circle cx="678.1" cy="270.6" r="2.6"/><circle cx="678.7" cy="283.3" r="2.6"/><circle cx="679.1" cy="269.9" r="2.6"/><circle cx="678.8" cy="270.5" r="2.6"/><circle cx="678.9" cy="276.1" r="2.6"/><circle cx="679.1" cy="279.8" r="2.6"/><circle cx="679.1" cy="286.3" r="2.6"/><circle cx="680.1" cy="291.7" r="2.6"/><circle cx="680.1" cy="267.5" r="2.6"/><circle cx="680.0" cy="271.2" r="2.6"/><circle cx="680.2" cy="283.4" r="2.6"/><circle cx="680.1" cy="269.5" r="2.6"/><circle cx="679.8" cy="265.9" r="2.6"/><circle cx="679.8" cy="268.3" r="2.6"/><circle cx="681.0" cy="261.1" r="2.6"/><circle cx="680.8" cy="280.2" r="2.6"/><circle cx="680.6" cy="262.2" r="2.6"/><circle cx="680.6" cy="260.9" r="2.6"/><circle cx="680.8" cy="276.9" r="2.6"/><circle cx="680.8" cy="264.4" r="2.6"/><circle cx="680.7" cy="291.4" r="2.6"/><circle cx="681.8" cy="276.1" r="2.6"/><circle cx="681.5" cy="284.5" r="2.6"/><circle cx="681.6" cy="261.5" r="2.6"/><circle cx="681.7" cy="260.3" r="2.6"/><circle cx="681.8" cy="271.2" r="2.6"/><circle cx="681.9" cy="274.5" r="2.6"/><circle cx="681.6" cy="266.6" r="2.6"/><circle cx="682.3" cy="288.3" r="2.6"/><circle cx="682.9" cy="288.5" r="2.6"/><circle cx="682.8" cy="277.7" r="2.6"/><circle cx="682.4" cy="260.2" r="2.6"/><circle cx="682.6" cy="272.2" r="2.6"/><circle cx="682.7" cy="278.4" r="2.6"/><circle cx="682.5" cy="266.1" r="2.6"/><circle cx="683.8" cy="281.0" r="2.6"/><circle cx="683.2" cy="281.7" r="2.6"/><circle cx="683.4" cy="270.7" r="2.6"/><circle cx="683.7" cy="259.1" r="2.6"/><circle cx="683.3" cy="269.3" r="2.6"/><circle cx="683.3" cy="259.4" r="2.6"/><circle cx="684.4" cy="261.2" r="2.6"/><circle cx="684.3" cy="272.9" r="2.6"/><circle cx="684.2" cy="282.5" r="2.6"/><circle cx="684.2" cy="261.4" r="2.6"/><circle cx="684.7" cy="261.6" r="2.6"/><circle cx="684.2" cy="280.3" r="2.6"/><circle cx="685.2" cy="278.3" r="2.6"/><circle cx="685.3" cy="282.9" r="2.6"/><circle cx="685.4" cy="283.3" r="2.6"/><circle cx="685.4" cy="270.2" r="2.6"/><circle cx="685.1" cy="284.9" r="2.6"/><circle cx="685.1" cy="274.2" r="2.6"/><circle cx="686.5" cy="258.7" r="2.6"/><circle cx="686.0" cy="279.3" r="2.6"/><circle cx="686.4" cy="265.5" r="2.6"/><circle cx="686.1" cy="262.8" r="2.6"/><circle cx="686.0" cy="263.0" r="2.6"/><circle cx="686.3" cy="269.3" r="2.6"/><circle cx="687.3" cy="260.8" r="2.6"/><circle cx="687.2" cy="267.6" r="2.6"/><circle cx="687.3" cy="279.3" r="2.6"/><circle cx="687.4" cy="280.6" r="2.6"/><circle cx="687.0" cy="272.1" r="2.6"/><circle cx="687.3" cy="255.6" r="2.6"/><circle cx="687.8" cy="263.0" r="2.6"/><circle cx="688.2" cy="265.9" r="2.6"/><circle cx="687.9" cy="266.2" r="2.6"/><circle cx="688.1" cy="265.6" r="2.6"/><circle cx="688.2" cy="266.3" r="2.6"/><circle cx="688.2" cy="258.4" r="2.6"/><circle cx="688.8" cy="282.6" r="2.6"/><circle cx="689.0" cy="279.1" r="2.6"/><circle cx="688.8" cy="284.7" r="2.6"/><circle cx="689.1" cy="276.8" r="2.6"/><circle cx="688.7" cy="277.6" r="2.6"/><circle cx="688.9" cy="279.3" r="2.6"/><circle cx="690.1" cy="279.7" r="2.6"/><circle cx="689.9" cy="265.2" r="2.6"/><circle cx="689.9" cy="280.4" r="2.6"/><circle cx="689.9" cy="280.5" r="2.6"/><circle cx="689.5" cy="281.5" r="2.6"/><circle cx="690.0" cy="258.9" r="2.6"/><circle cx="690.6" cy="268.2" r="2.6"/><circle cx="690.5" cy="264.5" r="2.6"/><circle cx="690.5" cy="278.5" r="2.6"/><circle cx="690.6" cy="278.5" r="2.6"/><circle cx="690.4" cy="281.3" r="2.6"/><circle cx="690.9" cy="260.6" r="2.6"/><circle cx="691.8" cy="255.0" r="2.6"/><circle cx="691.9" cy="254.9" r="2.6"/><circle cx="691.5" cy="277.1" r="2.6"/><circle cx="691.7" cy="259.2" r="2.6"/><circle cx="691.8" cy="267.9" r="2.6"/><circle cx="691.6" cy="265.9" r="2.6"/><circle cx="692.5" cy="274.7" r="2.6"/><circle cx="692.5" cy="261.3" r="2.6"/><circle cx="692.4" cy="279.1" r="2.6"/><circle cx="692.7" cy="269.6" r="2.6"/><circle cx="692.6" cy="254.8" r="2.6"/><circle cx="692.3" cy="270.0" r="2.6"/><circle cx="692.4" cy="277.7" r="2.6"/><circle cx="693.4" cy="277.2" r="2.6"/><circle cx="693.5" cy="269.8" r="2.6"/><circle cx="693.4" cy="253.8" r="2.6"/><circle cx="693.2" cy="276.0" r="2.6"/><circle cx="693.4" cy="251.2" r="2.6"/><circle cx="693.6" cy="266.9" r="2.6"/><circle cx="694.5" cy="257.8" r="2.6"/><circle cx="694.6" cy="254.5" r="2.6"/><circle cx="694.3" cy="267.4" r="2.6"/><circle cx="694.2" cy="268.8" r="2.6"/><circle cx="694.4" cy="254.4" r="2.6"/><circle cx="695.2" cy="252.1" r="2.6"/><circle cx="695.2" cy="254.2" r="2.6"/><circle cx="695.3" cy="254.8" r="2.6"/><circle cx="695.0" cy="263.3" r="2.6"/><circle cx="695.5" cy="251.8" r="2.6"/><circle cx="696.3" cy="257.1" r="2.6"/><circle cx="696.3" cy="261.5" r="2.6"/><circle cx="696.0" cy="249.9" r="2.6"/><circle cx="696.4" cy="263.7" r="2.6"/><circle cx="695.9" cy="256.9" r="2.6"/><circle cx="697.0" cy="254.2" r="2.6"/><circle cx="697.3" cy="261.6" r="2.6"/><circle cx="697.0" cy="261.6" r="2.6"/><circle cx="696.8" cy="262.6" r="2.6"/><circle cx="697.8" cy="257.9" r="2.6"/><circle cx="697.9" cy="250.9" r="2.6"/><circle cx="697.9" cy="254.2" r="2.6"/><circle cx="697.9" cy="247.9" r="2.6"/><circle cx="698.6" cy="241.7" r="2.6"/><circle cx="698.7" cy="247.7" r="2.6"/><circle cx="698.8" cy="254.5" r="2.6"/><circle cx="698.6" cy="255.1" r="2.6"/><circle cx="699.8" cy="256.1" r="2.6"/><circle cx="699.8" cy="243.7" r="2.6"/><circle cx="699.8" cy="250.5" r="2.6"/><circle cx="699.6" cy="252.9" r="2.6"/><circle cx="700.4" cy="254.7" r="2.6"/><circle cx="700.3" cy="239.5" r="2.6"/><circle cx="700.8" cy="255.0" r="2.6"/><circle cx="700.7" cy="246.3" r="2.6"/><circle cx="701.4" cy="245.0" r="2.6"/><circle cx="701.7" cy="248.0" r="2.6"/><circle cx="701.3" cy="254.2" r="2.6"/><circle cx="702.3" cy="238.3" r="2.6"/><circle cx="702.2" cy="242.5" r="2.6"/><circle cx="702.2" cy="246.0" r="2.6"/><circle cx="703.1" cy="237.3" r="2.6"/><circle cx="703.3" cy="239.3" r="2.6"/><circle cx="703.3" cy="242.4" r="2.6"/><circle cx="704.3" cy="240.5" r="2.6"/><circle cx="704.0" cy="248.4" r="2.6"/><circle cx="704.0" cy="240.3" r="2.6"/><circle cx="703.9" cy="235.6" r="2.6"/><circle cx="705.2" cy="248.7" r="2.6"/><circle cx="705.0" cy="237.4" r="2.6"/><circle cx="704.9" cy="236.4" r="2.6"/><circle cx="705.3" cy="237.8" r="2.6"/><circle cx="705.1" cy="236.4" r="2.6"/><circle cx="706.3" cy="245.9" r="2.6"/><circle cx="705.9" cy="243.2" r="2.6"/><circle cx="706.0" cy="234.6" r="2.6"/><circle cx="705.9" cy="240.9" r="2.6"/><circle cx="707.1" cy="240.7" r="2.6"/><circle cx="707.1" cy="242.6" r="2.6"/><circle cx="707.0" cy="248.1" r="2.6"/><circle cx="707.0" cy="227.3" r="2.6"/><circle cx="706.8" cy="233.0" r="2.6"/><circle cx="707.5" cy="236.5" r="2.6"/><circle cx="707.7" cy="232.3" r="2.6"/><circle cx="707.8" cy="226.0" r="2.6"/><circle cx="707.8" cy="224.1" r="2.6"/><circle cx="707.7" cy="246.5" r="2.6"/><circle cx="708.0" cy="243.7" r="2.6"/><circle cx="708.8" cy="235.3" r="2.6"/><circle cx="708.9" cy="247.3" r="2.6"/><circle cx="708.6" cy="238.6" r="2.6"/><circle cx="708.6" cy="233.7" r="2.6"/><circle cx="708.6" cy="229.4" r="2.6"/><circle cx="708.6" cy="231.0" r="2.6"/><circle cx="709.3" cy="234.9" r="2.6"/><circle cx="709.4" cy="227.0" r="2.6"/><circle cx="709.3" cy="228.7" r="2.6"/><circle cx="709.8" cy="243.3" r="2.6"/><circle cx="709.4" cy="223.5" r="2.6"/><circle cx="709.4" cy="239.4" r="2.6"/><circle cx="710.5" cy="224.5" r="2.6"/><circle cx="710.8" cy="235.9" r="2.6"/><circle cx="710.3" cy="235.6" r="2.6"/><circle cx="710.8" cy="240.2" r="2.6"/><circle cx="710.5" cy="241.1" r="2.6"/><circle cx="711.6" cy="234.0" r="2.6"/><circle cx="711.6" cy="236.4" r="2.6"/><circle cx="711.5" cy="226.0" r="2.6"/><circle cx="711.7" cy="219.5" r="2.6"/><circle cx="712.4" cy="218.1" r="2.6"/><circle cx="712.1" cy="219.6" r="2.6"/><circle cx="712.1" cy="217.3" r="2.6"/><circle cx="712.1" cy="232.8" r="2.6"/><circle cx="713.1" cy="231.9" r="2.6"/><circle cx="713.1" cy="238.7" r="2.6"/><circle cx="713.0" cy="224.8" r="2.6"/><circle cx="713.5" cy="238.9" r="2.6"/><circle cx="713.5" cy="226.5" r="2.6"/><circle cx="713.8" cy="221.4" r="2.6"/><circle cx="714.1" cy="221.5" r="2.6"/><circle cx="714.2" cy="220.9" r="2.6"/><circle cx="713.8" cy="225.2" r="2.6"/><circle cx="714.1" cy="233.6" r="2.6"/><circle cx="714.9" cy="230.4" r="2.6"/><circle cx="715.3" cy="227.9" r="2.6"/><circle cx="715.2" cy="236.7" r="2.6"/><circle cx="715.2" cy="231.0" r="2.6"/><circle cx="715.0" cy="225.5" r="2.6"/><circle cx="716.1" cy="223.0" r="2.6"/><circle cx="716.1" cy="227.1" r="2.6"/><circle cx="715.9" cy="233.1" r="2.6"/><circle cx="715.6" cy="219.7" r="2.6"/><circle cx="716.7" cy="228.2" r="2.6"/><circle cx="717.1" cy="232.9" r="2.6"/><circle cx="717.1" cy="231.1" r="2.6"/><circle cx="717.1" cy="234.0" r="2.6"/><circle cx="717.9" cy="227.1" r="2.6"/><circle cx="717.9" cy="228.2" r="2.6"/><circle cx="717.9" cy="226.3" r="2.6"/><circle cx="718.0" cy="237.3" r="2.6"/><circle cx="718.4" cy="227.3" r="2.6"/><circle cx="718.8" cy="234.8" r="2.6"/><circle cx="718.6" cy="226.3" r="2.6"/><circle cx="718.5" cy="232.3" r="2.6"/><circle cx="719.7" cy="223.1" r="2.6"/><circle cx="719.5" cy="238.0" r="2.6"/><circle cx="719.7" cy="234.9" r="2.6"/><circle cx="719.6" cy="224.3" r="2.6"/><circle cx="720.3" cy="238.1" r="2.6"/><circle cx="720.2" cy="223.1" r="2.6"/><circle cx="720.6" cy="235.4" r="2.6"/><circle cx="720.4" cy="223.4" r="2.6"/><circle cx="721.3" cy="226.0" r="2.6"/><circle cx="721.4" cy="234.6" r="2.6"/><circle cx="721.1" cy="233.1" r="2.6"/><circle cx="721.4" cy="223.2" r="2.6"/><circle cx="722.2" cy="228.2" r="2.6"/><circle cx="722.2" cy="238.5" r="2.6"/><circle cx="722.4" cy="238.9" r="2.6"/><circle cx="722.4" cy="240.0" r="2.6"/><circle cx="722.9" cy="239.1" r="2.6"/><circle cx="723.2" cy="229.7" r="2.6"/><circle cx="722.9" cy="240.8" r="2.6"/><circle cx="723.2" cy="231.2" r="2.6"/><circle cx="724.1" cy="243.4" r="2.6"/><circle cx="723.9" cy="234.0" r="2.6"/><circle cx="723.8" cy="238.2" r="2.6"/><circle cx="724.2" cy="225.4" r="2.6"/><circle cx="724.6" cy="234.1" r="2.6"/><circle cx="724.9" cy="225.6" r="2.6"/><circle cx="724.9" cy="242.2" r="2.6"/><circle cx="725.0" cy="243.1" r="2.6"/><circle cx="725.6" cy="232.5" r="2.6"/><circle cx="725.6" cy="245.7" r="2.6"/><circle cx="725.8" cy="228.9" r="2.6"/><circle cx="725.7" cy="227.8" r="2.6"/><circle cx="725.6" cy="243.0" r="2.6"/><circle cx="726.9" cy="236.7" r="2.6"/><circle cx="726.8" cy="243.8" r="2.6"/><circle cx="727.0" cy="231.5" r="2.6"/><circle cx="726.9" cy="246.7" r="2.6"/><circle cx="726.8" cy="230.9" r="2.6"/><circle cx="727.7" cy="246.7" r="2.6"/><circle cx="727.7" cy="237.1" r="2.6"/><circle cx="727.4" cy="229.1" r="2.6"/><circle cx="727.6" cy="248.1" r="2.6"/><circle cx="727.8" cy="245.6" r="2.6"/><circle cx="728.3" cy="249.6" r="2.6"/><circle cx="728.3" cy="231.5" r="2.6"/><circle cx="728.5" cy="243.9" r="2.6"/><circle cx="728.5" cy="240.8" r="2.6"/><circle cx="728.4" cy="237.3" r="2.6"/><circle cx="729.3" cy="242.0" r="2.6"/><circle cx="729.7" cy="247.0" r="2.6"/><circle cx="729.7" cy="242.8" r="2.6"/><circle cx="729.2" cy="232.5" r="2.6"/><circle cx="729.4" cy="250.0" r="2.6"/><circle cx="730.2" cy="239.0" r="2.6"/><circle cx="730.4" cy="243.0" r="2.6"/><circle cx="730.3" cy="237.2" r="2.6"/><circle cx="730.6" cy="230.2" r="2.6"/><circle cx="730.4" cy="234.5" r="2.6"/><circle cx="730.2" cy="232.5" r="2.6"/><circle cx="731.1" cy="246.3" r="2.6"/><circle cx="731.5" cy="244.0" r="2.6"/><circle cx="731.0" cy="252.0" r="2.6"/><circle cx="731.5" cy="247.2" r="2.6"/><circle cx="730.9" cy="239.4" r="2.6"/><circle cx="730.9" cy="245.5" r="2.6"/><circle cx="732.2" cy="236.0" r="2.6"/><circle cx="732.4" cy="243.5" r="2.6"/><circle cx="732.4" cy="233.8" r="2.6"/><circle cx="732.2" cy="251.7" r="2.6"/><circle cx="732.2" cy="247.5" r="2.6"/><circle cx="732.7" cy="231.4" r="2.6"/><circle cx="732.9" cy="240.5" r="2.6"/><circle cx="733.2" cy="253.6" r="2.6"/><circle cx="733.1" cy="237.8" r="2.6"/><circle cx="733.2" cy="243.9" r="2.6"/><circle cx="734.2" cy="234.4" r="2.6"/><circle cx="733.8" cy="233.8" r="2.6"/><circle cx="734.1" cy="249.0" r="2.6"/><circle cx="733.9" cy="232.0" r="2.6"/><circle cx="735.1" cy="250.6" r="2.6"/><circle cx="734.6" cy="238.1" r="2.6"/><circle cx="734.9" cy="244.6" r="2.6"/><circle cx="734.7" cy="230.6" r="2.6"/><circle cx="734.6" cy="247.6" r="2.6"/><circle cx="735.8" cy="242.7" r="2.6"/><circle cx="735.8" cy="248.9" r="2.6"/><circle cx="735.5" cy="249.8" r="2.6"/><circle cx="735.8" cy="249.8" r="2.6"/><circle cx="736.4" cy="235.5" r="2.6"/><circle cx="736.7" cy="246.7" r="2.6"/><circle cx="736.8" cy="233.3" r="2.6"/><circle cx="736.4" cy="230.9" r="2.6"/><circle cx="736.6" cy="231.3" r="2.6"/><circle cx="737.2" cy="238.9" r="2.6"/><circle cx="737.5" cy="235.9" r="2.6"/><circle cx="737.3" cy="238.6" r="2.6"/><circle cx="737.7" cy="227.9" r="2.6"/><circle cx="738.3" cy="243.7" r="2.6"/><circle cx="738.3" cy="232.8" r="2.6"/><circle cx="738.6" cy="230.0" r="2.6"/><circle cx="738.2" cy="237.2" r="2.6"/><circle cx="739.4" cy="243.2" r="2.6"/><circle cx="739.1" cy="236.7" r="2.6"/><circle cx="739.0" cy="237.5" r="2.6"/><circle cx="739.0" cy="244.7" r="2.6"/><circle cx="740.1" cy="231.0" r="2.6"/><circle cx="740.2" cy="239.7" r="2.6"/><circle cx="740.5" cy="236.2" r="2.6"/><circle cx="741.3" cy="232.5" r="2.6"/><circle cx="741.2" cy="234.7" r="2.6"/><circle cx="741.1" cy="235.0" r="2.6"/><circle cx="742.1" cy="231.6" r="2.6"/><circle cx="741.8" cy="232.6" r="2.6"/><circle cx="742.1" cy="242.4" r="2.6"/><circle cx="743.0" cy="238.0" r="2.6"/><circle cx="743.0" cy="235.8" r="2.6"/><circle cx="742.9" cy="232.9" r="2.6"/><circle cx="743.6" cy="240.0" r="2.6"/><circle cx="744.0" cy="237.3" r="2.6"/><circle cx="743.5" cy="239.9" r="2.6"/></g>
<circle cx="589.2" cy="75.7" r="2.6" fill="#14f2c0"/>
<circle cx="589.2" cy="87.2" r="2.6" fill="#14f2c0"/>
<circle cx="589.2" cy="107" r="2.6" fill="#14f2c0"/>
<circle cx="589.2" cy="115.7" r="2.6" fill="#14f2c0"/>
<circle cx="589.2" cy="126.2" r="2.6" fill="#14f2c0"/>
<circle cx="589.2" cy="134.9" r="2.6" fill="#14f2c0"/>
<circle cx="589" cy="181.5" r="2.6" fill="#ff0a3c"/>
<circle cx="589" cy="191.5" r="2.6" fill="#ff0a3c"/>
<circle cx="589" cy="227.4" r="2.6" fill="#ff0a3c"/>
<circle cx="589" cy="238.5" r="2.6" fill="#ff0a3c"/>
<circle cx="589" cy="244" r="2.6" fill="#ff0a3c"/>
</svg>
</g>
<defs><filter id="txtf" x="0" y="0" width="810" height="431" filterUnits="userSpaceOnUse" color-interpolation-filters="sRGB"><feConvolveMatrix order="3" kernelMatrix="0.0025 0.0475 0.0025 0.0475 0.8 0.0475 0.0025 0.0475 0.0025" edgeMode="none"/></filter></defs>
<g filter="url(#txtf)"><g font-family="Liberation Sans, sans-serif" fill="#000000" stroke="#000000" stroke-width="0.2">
<text x="0" y="0" font-size="13" text-anchor="middle" transform="translate(232.5,34.8) scale(1.0,1.06)">Pressure</text>
<text x="0" y="0" font-size="13" text-anchor="middle" transform="translate(622.4,34.8) scale(1.035,1.06)">Temperature</text>
<text x="0" y="0" font-size="13" text-anchor="end" transform="translate(91,50.9) scale(1.0,1.06)">1.0E-3</text>
<text x="0" y="0" font-size="13" text-anchor="end" transform="translate(91,104.6) scale(1.0,1.06)">1.0E-4</text>
<text x="0" y="0" font-size="13" text-anchor="end" transform="translate(91,158.3) scale(1.0,1.06)">1.0E-5</text>
<text x="0" y="0" font-size="13" text-anchor="end" transform="translate(91,212.00000000000003) scale(1.0,1.06)">1.0E-6</text>
<text x="0" y="0" font-size="13" text-anchor="end" transform="translate(91,265.7) scale(1.0,1.06)">1.0E-7</text>
<text x="0" y="0" font-size="13" text-anchor="end" transform="translate(91,319.4) scale(1.0,1.06)">1.0E-8</text>
<text x="0" y="0" font-size="13" text-anchor="end" transform="translate(91,373.1) scale(1.0,1.06)">1.0E-9</text>
<text x="0" y="0" font-size="13" text-anchor="end" transform="translate(457,50.5) scale(1.08,1.06)">7.5</text>
<text x="0" y="0" font-size="13" text-anchor="end" transform="translate(457,90.5) scale(1.08,1.06)">7.4</text>
<text x="0" y="0" font-size="13" text-anchor="end" transform="translate(457,131.5) scale(1.08,1.06)">7.3</text>
<text x="0" y="0" font-size="13" text-anchor="end" transform="translate(457,171.5) scale(1.08,1.06)">7.2</text>
<text x="0" y="0" font-size="13" text-anchor="end" transform="translate(457,211.5) scale(1.08,1.06)">7.1</text>
<text x="0" y="0" font-size="13" text-anchor="end" transform="translate(457,251.5) scale(1.08,1.06)">7.0</text>
<text x="0" y="0" font-size="13" text-anchor="end" transform="translate(457,292.5) scale(1.08,1.06)">6.9</text>
<text x="0" y="0" font-size="13" text-anchor="end" transform="translate(457,333.5) scale(1.08,1.06)">6.8</text>
<text x="0" y="0" font-size="13" text-anchor="end" transform="translate(457,373.5) scale(1.08,1.06)">6.7</text>
<text x="0" y="0" font-size="13" text-anchor="middle" transform="translate(103.0,391.0) scale(1.05,1.06)">00:00</text>
<text x="0" y="0" font-size="13" text-anchor="middle" transform="translate(170.1,391.0) scale(1.05,1.06)">02:00</text>
<text x="0" y="0" font-size="13" text-anchor="middle" transform="translate(235.9,391.0) scale(1.05,1.06)">04:00</text>
<text x="0" y="0" font-size="13" text-anchor="middle" transform="translate(303.3,391.0) scale(1.05,1.06)">06:00</text>
<text x="0" y="0" font-size="13" text-anchor="middle" transform="translate(356.90000000000003,391.0) scale(1.05,1.06)">07:35</text>
<text x="0" y="0" font-size="13" text-anchor="middle" transform="translate(468.90000000000003,391.0) scale(1.05,1.06)">00:00</text>
<text x="0" y="0" font-size="13" text-anchor="middle" transform="translate(541.1,391.0) scale(1.05,1.06)">02:00</text>
<text x="0" y="0" font-size="13" text-anchor="middle" transform="translate(613.3000000000001,391.0) scale(1.05,1.06)">04:00</text>
<text x="0" y="0" font-size="13" text-anchor="middle" transform="translate(685.5,391.0) scale(1.05,1.06)">06:00</text>
<text x="0" y="0" font-size="13" text-anchor="middle" transform="translate(742.7,391.0) scale(1.05,1.06)">07:35</text>
<text x="0" y="0" font-size="13" text-anchor="middle" transform="translate(245.3,409.8) scale(1.0,1.06)">Time</text>
<text x="0" y="0" font-size="13" text-anchor="middle" transform="translate(595.5,409.8) scale(1.0,1.06)">Time</text>
<text x="0" y="0" font-size="13" text-anchor="middle" transform="translate(44.5,204.6) rotate(-90) scale(1.03,1.06)">Pressure (mbar)</text>
<text x="0" y="0" font-size="13" text-anchor="middle" transform="translate(430,205.2) rotate(-90) scale(1.045,1.06)">Temperature (K)</text>
<text x="0" y="0" font-size="13" text-anchor="start" transform="translate(816.8,241.3) rotate(-90) scale(1.03,1.06)">Counts/sec</text>
</g>
<g fill="#000" stroke="none" shape-rendering="crispEdges">
<rect x="94" y="45" width="6" height="1"/>
<rect x="94" y="99" width="6" height="1"/>
<rect x="94" y="153" width="6" height="1"/>
<rect x="94" y="207" width="6" height="1"/>
<rect x="94" y="260" width="6" height="1"/>
<rect x="94" y="314" width="6" height="1"/>
<rect x="94" y="368" width="6" height="1"/>
<rect x="460" y="45" width="6" height="1"/>
<rect x="460" y="85" width="6" height="1"/>
<rect x="460" y="126" width="6" height="1"/>
<rect x="460" y="166" width="6" height="1"/>
<rect x="460" y="206" width="6" height="1"/>
<rect x="460" y="246" width="6" height="1"/>
<rect x="460" y="287" width="6" height="1"/>
<rect x="460" y="328" width="6" height="1"/>
<rect x="460" y="368" width="6" height="1"/>
<rect x="103" y="371" width="1" height="6"/>
<rect x="170" y="371" width="1" height="6"/>
<rect x="236" y="371" width="1" height="6"/>
<rect x="303" y="371" width="1" height="6"/>
<rect x="357" y="371" width="1" height="6"/>
<rect x="469" y="371" width="1" height="6"/>
<rect x="541" y="371" width="1" height="6"/>
<rect x="613" y="371" width="1" height="6"/>
<rect x="685" y="371" width="1" height="6"/>
<rect x="743" y="371" width="1" height="6"/>
</g>
</g>
<g filter="url(#blur)">
<g shape-rendering="crispEdges"><rect x="43" y="95" width="1" height="1" fill="#000"/><rect x="44" y="95" width="1" height="1" fill="#000"/><rect x="45" y="95" width="1" height="1" fill="#000"/><rect x="46" y="95" width="1" height="1" fill="#000"/><rect x="42" y="96" width="1" height="1" fill="#000"/><rect x="43" y="96" width="1" height="1" fill="#fff"/><rect x="44" y="96" width="1" height="1" fill="#fff"/><rect x="45" y="96" width="1" height="1" fill="#fff"/><rect x="46" y="96" width="1" height="1" fill="#000"/><rect x="47" y="96" width="1" height="1" fill="#000"/><rect x="42" y="97" width="1" height="1" fill="#000"/><rect x="43" y="97" width="1" height="1" fill="#fff"/><rect x="44" y="97" width="1" height="1" fill="#fff"/><rect x="45" y="97" width="1" height="1" fill="#fff"/><rect x="46" y="97" width="1" height="1" fill="#000"/><rect x="47" y="97" width="1" height="1" fill="#000"/><rect x="42" y="98" width="1" height="1" fill="#000"/><rect x="43" y="98" width="1" height="1" fill="#fff"/><rect x="44" y="98" width="1" height="1" fill="#fff"/><rect x="45" y="98" width="1" height="1" fill="#fff"/><rect x="46" y="98" width="1" height="1" fill="#000"/><rect x="47" y="98" width="1" height="1" fill="#000"/><rect x="42" y="99" width="1" height="1" fill="#000"/><rect x="43" y="99" width="1" height="1" fill="#fff"/><rect x="44" y="99" width="1" height="1" fill="#fff"/><rect x="45" y="99" width="1" height="1" fill="#fff"/><rect x="46" y="99" width="1" height="1" fill="#000"/><rect x="47" y="99" width="1" height="1" fill="#000"/><rect x="42" y="100" width="1" height="1" fill="#000"/><rect x="43" y="100" width="1" height="1" fill="#fff"/><rect x="44" y="100" width="1" height="1" fill="#fff"/><rect x="45" y="100" width="1" height="1" fill="#fff"/><rect x="46" y="100" width="1" height="1" fill="#000"/><rect x="47" y="100" width="1" height="1" fill="#000"/><rect x="42" y="101" width="1" height="1" fill="#000"/><rect x="43" y="101" width="1" height="1" fill="#fff"/><rect x="44" y="101" width="1" height="1" fill="#fff"/><rect x="45" y="101" width="1" height="1" fill="#fff"/><rect x="46" y="101" width="1" height="1" fill="#000"/><rect x="47" y="101" width="1" height="1" fill="#000"/><rect x="42" y="102" width="1" height="1" fill="#000"/><rect x="43" y="102" width="1" height="1" fill="#fff"/><rect x="44" y="102" width="1" height="1" fill="#fff"/><rect x="45" y="102" width="1" height="1" fill="#fff"/><rect x="46" y="102" width="1" height="1" fill="#000"/><rect x="47" y="102" width="1" height="1" fill="#000"/><rect x="38" y="103" width="1" height="1" fill="#000"/><rect x="39" y="103" width="1" height="1" fill="#000"/><rect x="42" y="103" width="1" height="1" fill="#000"/><rect x="43" y="103" width="1" height="1" fill="#fff"/><rect x="44" y="103" width="1" height="1" fill="#fff"/><rect x="45" y="103" width="1" height="1" fill="#fff"/><rect x="46" y="103" width="1" height="1" fill="#000"/><rect x="47" y="103" width="1" height="1" fill="#000"/><rect x="38" y="104" width="1" height="1" fill="#000"/><rect x="39" y="104" width="1" height="1" fill="#fff"/><rect x="40" y="104" width="1" height="1" fill="#000"/><rect x="41" y="104" width="1" height="1" fill="#000"/><rect x="42" y="104" width="1" height="1" fill="#000"/><rect x="43" y="104" width="1" height="1" fill="#fff"/><rect x="44" y="104" width="1" height="1" fill="#fff"/><rect x="45" y="104" width="1" height="1" fill="#fff"/><rect x="46" y="104" width="1" height="1" fill="#fff"/><rect x="47" y="104" width="1" height="1" fill="#000"/><rect x="48" y="104" width="1" height="1" fill="#000"/><rect x="49" y="104" width="1" height="1" fill="#000"/><rect x="50" y="104" width="1" height="1" fill="#000"/><rect x="51" y="104" width="1" height="1" fill="#000"/><rect x="52" y="104" width="1" height="1" fill="#000"/><rect x="38" y="105" width="1" height="1" fill="#000"/><rect x="39" y="105" width="1" height="1" fill="#fff"/><rect x="40" y="105" width="1" height="1" fill="#fff"/><rect x="41" y="105" width="1" height="1" fill="#fff"/><rect x="42" y="105" width="1" height="1" fill="#000"/><rect x="43" y="105" width="1" height="1" fill="#fff"/><rect x="44" y="105" width="1" height="1" fill="#fff"/><rect x="45" y="105" width="1" height="1" fill="#fff"/><rect x="46" y="105" width="1" height="1" fill="#fff"/><rect x="47" y="105" width="1" height="1" fill="#fff"/><rect x="48" y="105" width="1" height="1" fill="#000"/><rect x="49" y="105" width="1" height="1" fill="#fff"/><rect x="50" y="105" width="1" height="1" fill="#000"/><rect x="51" y="105" width="1" height="1" fill="#fff"/><rect x="52" y="105" width="1" height="1" fill="#000"/><rect x="38" y="106" width="1" height="1" fill="#000"/><rect x="39" y="106" width="1" height="1" fill="#fff"/><rect x="40" y="106" width="1" height="1" fill="#fff"/><rect x="41" y="106" width="1" height="1" fill="#fff"/><rect x="42" y="106" width="1" height="1" fill="#fff"/><rect x="43" y="106" width="1" height="1" fill="#fff"/><rect x="44" y="106" width="1" height="1" fill="#fff"/><rect x="45" y="106" width="1" height="1" fill="#fff"/><rect x="46" y="106" width="1" height="1" fill="#fff"/><rect x="47" y="106" width="1" height="1" fill="#fff"/><rect x="48" y="106" width="1" height="1" fill="#fff"/><rect x="49" y="106" width="1" height="1" fill="#fff"/><rect x="50" y="106" width="1" height="1" fill="#000"/><rect x="51" y="106" width="1" height="1" fill="#fff"/><rect x="52" y="106" width="1" height="1" fill="#fff"/><rect x="53" y="106" width="1" height="1" fill="#000"/><rect x="39" y="107" width="1" height="1" fill="#000"/><rect x="40" y="107" width="1" height="1" fill="#fff"/><rect x="41" y="107" width="1" height="1" fill="#fff"/><rect x="42" y="107" width="1" height="1" fill="#fff"/><rect x="43" y="107" width="1" height="1" fill="#fff"/><rect x="44" y="107" width="1" height="1" fill="#fff"/><rect x="45" y="107" width="1" height="1" fill="#fff"/><rect x="46" y="107" width="1" height="1" fill="#fff"/><rect x="47" y="107" width="1" height="1" fill="#fff"/><rect x="48" y="107" width="1" height="1" fill="#fff"/><rect x="49" y="107" width="1" height="1" fill="#fff"/><rect x="50" y="107" width="1" height="1" fill="#fff"/><rect x="51" y="107" width="1" height="1" fill="#fff"/><rect x="52" y="107" width="1" height="1" fill="#fff"/><rect x="53" y="107" width="1" height="1" fill="#000"/><rect x="39" y="108" width="1" height="1" fill="#000"/><rect x="40" y="108" width="1" height="1" fill="#fff"/><rect x="41" y="108" width="1" height="1" fill="#fff"/><rect x="42" y="108" width="1" height="1" fill="#fff"/><rect x="43" y="108" width="1" height="1" fill="#fff"/><rect x="44" y="108" width="1" height="1" fill="#fff"/><rect x="45" y="108" width="1" height="1" fill="#fff"/><rect x="46" y="108" width="1" height="1" fill="#fff"/><rect x="47" y="108" width="1" height="1" fill="#fff"/><rect x="48" y="108" width="1" height="1" fill="#fff"/><rect x="49" y="108" width="1" height="1" fill="#fff"/><rect x="50" y="108" width="1" height="1" fill="#fff"/><rect x="51" y="108" width="1" height="1" fill="#fff"/><rect x="52" y="108" width="1" height="1" fill="#fff"/><rect x="53" y="108" width="1" height="1" fill="#000"/><rect x="40" y="109" width="1" height="1" fill="#000"/><rect x="41" y="109" width="1" height="1" fill="#fff"/><rect x="42" y="109" width="1" height="1" fill="#fff"/><rect x="43" y="109" width="1" height="1" fill="#fff"/><rect x="44" y="109" width="1" height="1" fill="#fff"/><rect x="45" y="109" width="1" height="1" fill="#fff"/><rect x="46" y="109" width="1" height="1" fill="#fff"/><rect x="47" y="109" width="1" height="1" fill="#fff"/><rect x="48" y="109" width="1" height="1" fill="#fff"/><rect x="49" y="109" width="1" height="1" fill="#fff"/><rect x="50" y="109" width="1" height="1" fill="#fff"/><rect x="51" y="109" width="1" height="1" fill="#fff"/><rect x="52" y="109" width="1" height="1" fill="#fff"/><rect x="53" y="109" width="1" height="1" fill="#000"/><rect x="40" y="110" width="1" height="1" fill="#000"/><rect x="41" y="110" width="1" height="1" fill="#fff"/><rect x="42" y="110" width="1" height="1" fill="#fff"/><rect x="43" y="110" width="1" height="1" fill="#fff"/><rect x="44" y="110" width="1" height="1" fill="#fff"/><rect x="45" y="110" width="1" height="1" fill="#fff"/><rect x="46" y="110" width="1" height="1" fill="#fff"/><rect x="47" y="110" width="1" height="1" fill="#fff"/><rect x="48" y="110" width="1" height="1" fill="#fff"/><rect x="49" y="110" width="1" height="1" fill="#fff"/><rect x="50" y="110" width="1" height="1" fill="#fff"/><rect x="51" y="110" width="1" height="1" fill="#fff"/><rect x="52" y="110" width="1" height="1" fill="#fff"/><rect x="53" y="110" width="1" height="1" fill="#000"/><rect x="41" y="111" width="1" height="1" fill="#000"/><rect x="42" y="111" width="1" height="1" fill="#000"/><rect x="43" y="111" width="1" height="1" fill="#000"/><rect x="44" y="111" width="1" height="1" fill="#000"/><rect x="45" y="111" width="1" height="1" fill="#000"/><rect x="46" y="111" width="1" height="1" fill="#000"/><rect x="47" y="111" width="1" height="1" fill="#000"/><rect x="48" y="111" width="1" height="1" fill="#000"/><rect x="49" y="111" width="1" height="1" fill="#000"/><rect x="50" y="111" width="1" height="1" fill="#000"/><rect x="51" y="111" width="1" height="1" fill="#000"/><rect x="52" y="111" width="1" height="1" fill="#000"/><rect x="53" y="111" width="1" height="1" fill="#000"/></g>
</g></svg>
</body></html>
